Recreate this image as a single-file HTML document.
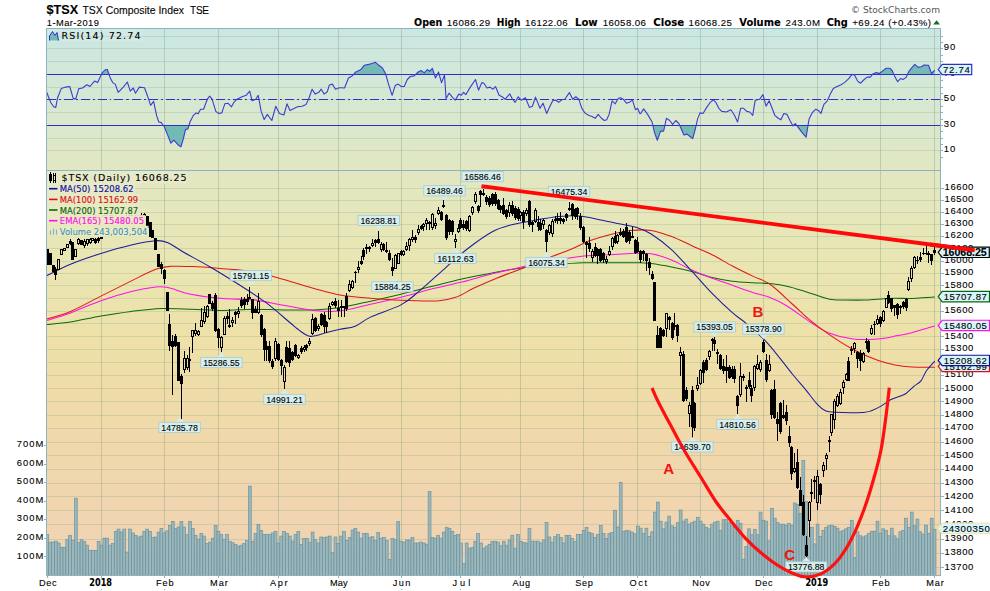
<!DOCTYPE html>
<html><head><meta charset="utf-8"><title>$TSX TSX Composite Index</title>
<style>
html,body{margin:0;padding:0;background:#fff;}
body{width:990px;height:591px;overflow:hidden;}
svg{display:block;}
text{font-family:"Liberation Sans", Arial, sans-serif;fill:#000;stroke:#000;stroke-width:0.1px;}
.ns{stroke:none;}
.v{font-family:"DejaVu Sans", Verdana, sans-serif;}
.b{font-weight:bold;}
</style></head><body>
<svg width="990" height="591" viewBox="0 0 990 591">
<defs>
<linearGradient id="bg" gradientUnits="userSpaceOnUse" x1="0" y1="28" x2="0" y2="576">
<stop offset="0" stop-color="#cae7e3"/>
<stop offset="0.13" stop-color="#d6e8d3"/>
<stop offset="0.26" stop-color="#e2e7c2"/>
<stop offset="0.42" stop-color="#e9e6b3"/>
<stop offset="0.58" stop-color="#eee0a8"/>
<stop offset="0.75" stop-color="#f0d8aa"/>
<stop offset="1" stop-color="#f1d3b6"/>
</linearGradient>
<clipPath id="cp"><rect x="46.5" y="28.5" width="894.0" height="547.0"/></clipPath>
</defs>
<rect x="0" y="0" width="990" height="591" fill="#fff"/>
<rect x="46.5" y="28.5" width="894.0" height="547.0" fill="url(#bg)"/>

<path d="M46.5,150.5H940.5 M46.5,138.5H940.5 M46.5,125.5H940.5 M46.5,112.5H940.5 M46.5,99.5H940.5 M46.5,87.5H940.5 M46.5,74.5H940.5 M46.5,61.5H940.5 M46.5,48.5H940.5 M46.5,36.5H940.5 M46.5,567.5H940.5 M46.5,553.5H940.5 M46.5,539.5H940.5 M46.5,524.5H940.5 M46.5,510.5H940.5 M46.5,496.5H940.5 M46.5,483.5H940.5 M46.5,469.5H940.5 M46.5,455.5H940.5 M46.5,442.5H940.5 M46.5,428.5H940.5 M46.5,415.5H940.5 M46.5,401.5H940.5 M46.5,388.5H940.5 M46.5,375.5H940.5 M46.5,362.5H940.5 M46.5,349.5H940.5 M46.5,336.5H940.5 M46.5,323.5H940.5 M46.5,311.5H940.5 M46.5,298.5H940.5 M46.5,285.5H940.5 M46.5,273.5H940.5 M46.5,261.5H940.5 M46.5,248.5H940.5 M46.5,236.5H940.5 M46.5,224.5H940.5 M46.5,212.5H940.5 M46.5,200.5H940.5 M46.5,188.5H940.5" stroke="#7f9f80" stroke-opacity="0.25" stroke-width="1" fill="none" shape-rendering="crispEdges"/>
<path d="M101.5,28.5V575.5 M164.5,28.5V575.5 M218.5,28.5V575.5 M278.5,28.5V575.5 M338.5,28.5V575.5 M401.5,28.5V575.5 M460.5,28.5V575.5 M520.5,28.5V575.5 M583.5,28.5V575.5 M637.5,28.5V575.5 M700.5,28.5V575.5 M763.5,28.5V575.5 M817.5,28.5V575.5 M880.5,28.5V575.5 M934.5,28.5V575.5" stroke="#6f9478" stroke-opacity="0.33" stroke-width="1" fill="none" shape-rendering="crispEdges"/>
<g fill="#94b4bb" fill-opacity="0.9" stroke="#6a94a0" stroke-width="0.7" clip-path="url(#cp)">
<rect x="45.85" y="534.5" width="2.85" height="41.0"/>
<rect x="48.70" y="542.1" width="2.85" height="33.4"/>
<rect x="51.56" y="542.1" width="2.85" height="33.4"/>
<rect x="54.41" y="541.2" width="2.85" height="34.3"/>
<rect x="57.26" y="543.0" width="2.85" height="32.5"/>
<rect x="60.11" y="547.3" width="2.85" height="28.2"/>
<rect x="62.97" y="547.3" width="2.85" height="28.2"/>
<rect x="65.82" y="539.7" width="2.85" height="35.8"/>
<rect x="68.67" y="535.5" width="2.85" height="40.0"/>
<rect x="71.53" y="540.6" width="2.85" height="34.9"/>
<rect x="74.38" y="498.2" width="2.85" height="77.3"/>
<rect x="77.23" y="542.7" width="2.85" height="32.8"/>
<rect x="80.09" y="539.7" width="2.85" height="35.8"/>
<rect x="82.94" y="541.5" width="2.85" height="34.0"/>
<rect x="85.79" y="545.2" width="2.85" height="30.3"/>
<rect x="88.64" y="550.3" width="2.85" height="25.2"/>
<rect x="91.50" y="550.3" width="2.85" height="25.2"/>
<rect x="94.35" y="550.3" width="2.85" height="25.2"/>
<rect x="97.20" y="541.5" width="2.85" height="34.0"/>
<rect x="100.06" y="545.2" width="2.85" height="30.3"/>
<rect x="102.91" y="538.2" width="2.85" height="37.3"/>
<rect x="105.76" y="538.2" width="2.85" height="37.3"/>
<rect x="108.62" y="545.2" width="2.85" height="30.3"/>
<rect x="111.47" y="543.6" width="2.85" height="31.9"/>
<rect x="114.32" y="531.5" width="2.85" height="44.0"/>
<rect x="117.17" y="529.1" width="2.85" height="46.4"/>
<rect x="120.03" y="532.1" width="2.85" height="43.4"/>
<rect x="122.88" y="529.1" width="2.85" height="46.4"/>
<rect x="125.73" y="552.1" width="2.85" height="23.4"/>
<rect x="128.59" y="529.1" width="2.85" height="46.4"/>
<rect x="131.44" y="533.0" width="2.85" height="42.5"/>
<rect x="134.29" y="535.5" width="2.85" height="40.0"/>
<rect x="137.15" y="537.0" width="2.85" height="38.5"/>
<rect x="140.00" y="536.1" width="2.85" height="39.4"/>
<rect x="142.85" y="531.5" width="2.85" height="44.0"/>
<rect x="145.71" y="529.1" width="2.85" height="46.4"/>
<rect x="148.56" y="531.5" width="2.85" height="44.0"/>
<rect x="151.41" y="537.6" width="2.85" height="37.9"/>
<rect x="154.26" y="537.0" width="2.85" height="38.5"/>
<rect x="157.12" y="532.1" width="2.85" height="43.4"/>
<rect x="159.97" y="528.5" width="2.85" height="47.0"/>
<rect x="162.82" y="533.0" width="2.85" height="42.5"/>
<rect x="165.68" y="530.9" width="2.85" height="44.6"/>
<rect x="168.53" y="525.5" width="2.85" height="50.0"/>
<rect x="171.38" y="521.5" width="2.85" height="54.0"/>
<rect x="174.24" y="528.5" width="2.85" height="47.0"/>
<rect x="177.09" y="527.0" width="2.85" height="48.5"/>
<rect x="179.94" y="521.5" width="2.85" height="54.0"/>
<rect x="182.79" y="527.0" width="2.85" height="48.5"/>
<rect x="185.65" y="534.5" width="2.85" height="41.0"/>
<rect x="188.50" y="521.5" width="2.85" height="54.0"/>
<rect x="191.35" y="528.5" width="2.85" height="47.0"/>
<rect x="194.21" y="535.5" width="2.85" height="40.0"/>
<rect x="197.06" y="539.1" width="2.85" height="36.4"/>
<rect x="199.91" y="533.6" width="2.85" height="41.9"/>
<rect x="202.77" y="536.1" width="2.85" height="39.4"/>
<rect x="205.62" y="543.6" width="2.85" height="31.9"/>
<rect x="208.47" y="542.1" width="2.85" height="33.4"/>
<rect x="211.32" y="538.2" width="2.85" height="37.3"/>
<rect x="214.18" y="525.5" width="2.85" height="50.0"/>
<rect x="217.03" y="531.5" width="2.85" height="44.0"/>
<rect x="219.88" y="534.5" width="2.85" height="41.0"/>
<rect x="222.74" y="539.1" width="2.85" height="36.4"/>
<rect x="225.59" y="534.5" width="2.85" height="41.0"/>
<rect x="228.44" y="541.5" width="2.85" height="34.0"/>
<rect x="231.30" y="542.7" width="2.85" height="32.8"/>
<rect x="234.15" y="544.5" width="2.85" height="31.0"/>
<rect x="237.00" y="546.1" width="2.85" height="29.4"/>
<rect x="239.85" y="545.2" width="2.85" height="30.3"/>
<rect x="242.71" y="543.6" width="2.85" height="31.9"/>
<rect x="245.56" y="540.6" width="2.85" height="34.9"/>
<rect x="248.41" y="486.1" width="2.85" height="89.4"/>
<rect x="251.27" y="541.5" width="2.85" height="34.0"/>
<rect x="254.12" y="533.6" width="2.85" height="41.9"/>
<rect x="256.97" y="524.5" width="2.85" height="51.0"/>
<rect x="259.83" y="530.6" width="2.85" height="44.9"/>
<rect x="262.68" y="534.5" width="2.85" height="41.0"/>
<rect x="265.53" y="534.5" width="2.85" height="41.0"/>
<rect x="268.38" y="534.5" width="2.85" height="41.0"/>
<rect x="271.24" y="533.0" width="2.85" height="42.5"/>
<rect x="274.09" y="531.5" width="2.85" height="44.0"/>
<rect x="276.94" y="543.0" width="2.85" height="32.5"/>
<rect x="279.80" y="536.1" width="2.85" height="39.4"/>
<rect x="282.65" y="531.5" width="2.85" height="44.0"/>
<rect x="285.50" y="533.6" width="2.85" height="41.9"/>
<rect x="288.36" y="536.1" width="2.85" height="39.4"/>
<rect x="291.21" y="541.2" width="2.85" height="34.3"/>
<rect x="294.06" y="534.5" width="2.85" height="41.0"/>
<rect x="296.91" y="531.5" width="2.85" height="44.0"/>
<rect x="299.77" y="544.5" width="2.85" height="31.0"/>
<rect x="302.62" y="538.5" width="2.85" height="37.0"/>
<rect x="305.47" y="538.5" width="2.85" height="37.0"/>
<rect x="308.33" y="542.1" width="2.85" height="33.4"/>
<rect x="311.18" y="532.1" width="2.85" height="43.4"/>
<rect x="314.03" y="539.7" width="2.85" height="35.8"/>
<rect x="316.89" y="543.0" width="2.85" height="32.5"/>
<rect x="319.74" y="537.0" width="2.85" height="38.5"/>
<rect x="322.59" y="537.6" width="2.85" height="37.9"/>
<rect x="325.44" y="537.0" width="2.85" height="38.5"/>
<rect x="328.30" y="536.1" width="2.85" height="39.4"/>
<rect x="331.15" y="552.7" width="2.85" height="22.8"/>
<rect x="334.00" y="537.0" width="2.85" height="38.5"/>
<rect x="336.86" y="543.6" width="2.85" height="31.9"/>
<rect x="339.71" y="536.1" width="2.85" height="39.4"/>
<rect x="342.56" y="531.5" width="2.85" height="44.0"/>
<rect x="345.42" y="540.6" width="2.85" height="34.9"/>
<rect x="348.27" y="537.6" width="2.85" height="37.9"/>
<rect x="351.12" y="530.0" width="2.85" height="45.5"/>
<rect x="353.97" y="528.5" width="2.85" height="47.0"/>
<rect x="356.83" y="532.1" width="2.85" height="43.4"/>
<rect x="359.68" y="538.2" width="2.85" height="37.3"/>
<rect x="362.53" y="533.6" width="2.85" height="41.9"/>
<rect x="365.39" y="533.6" width="2.85" height="41.9"/>
<rect x="368.24" y="537.6" width="2.85" height="37.9"/>
<rect x="371.09" y="536.7" width="2.85" height="38.8"/>
<rect x="373.95" y="540.6" width="2.85" height="34.9"/>
<rect x="376.80" y="532.4" width="2.85" height="43.1"/>
<rect x="379.65" y="538.2" width="2.85" height="37.3"/>
<rect x="382.50" y="537.6" width="2.85" height="37.9"/>
<rect x="385.36" y="540.6" width="2.85" height="34.9"/>
<rect x="388.21" y="559.4" width="2.85" height="16.1"/>
<rect x="391.06" y="538.5" width="2.85" height="37.0"/>
<rect x="393.92" y="539.7" width="2.85" height="35.8"/>
<rect x="396.77" y="521.5" width="2.85" height="54.0"/>
<rect x="399.62" y="541.2" width="2.85" height="34.3"/>
<rect x="402.48" y="542.1" width="2.85" height="33.4"/>
<rect x="405.33" y="540.0" width="2.85" height="35.5"/>
<rect x="408.18" y="540.0" width="2.85" height="35.5"/>
<rect x="411.03" y="537.6" width="2.85" height="37.9"/>
<rect x="413.89" y="543.0" width="2.85" height="32.5"/>
<rect x="416.74" y="543.0" width="2.85" height="32.5"/>
<rect x="419.59" y="542.1" width="2.85" height="33.4"/>
<rect x="422.45" y="543.0" width="2.85" height="32.5"/>
<rect x="425.30" y="544.2" width="2.85" height="31.3"/>
<rect x="428.15" y="491.5" width="2.85" height="84.0"/>
<rect x="431.01" y="537.6" width="2.85" height="37.9"/>
<rect x="433.86" y="538.2" width="2.85" height="37.3"/>
<rect x="436.71" y="535.5" width="2.85" height="40.0"/>
<rect x="439.56" y="538.2" width="2.85" height="37.3"/>
<rect x="442.42" y="532.1" width="2.85" height="43.4"/>
<rect x="445.27" y="527.3" width="2.85" height="48.2"/>
<rect x="448.12" y="528.5" width="2.85" height="47.0"/>
<rect x="450.98" y="531.5" width="2.85" height="44.0"/>
<rect x="453.83" y="535.5" width="2.85" height="40.0"/>
<rect x="456.68" y="534.5" width="2.85" height="41.0"/>
<rect x="459.54" y="543.0" width="2.85" height="32.5"/>
<rect x="462.39" y="563.3" width="2.85" height="12.2"/>
<rect x="465.24" y="543.0" width="2.85" height="32.5"/>
<rect x="468.09" y="548.2" width="2.85" height="27.3"/>
<rect x="470.95" y="547.3" width="2.85" height="28.2"/>
<rect x="473.80" y="541.5" width="2.85" height="34.0"/>
<rect x="476.65" y="533.6" width="2.85" height="41.9"/>
<rect x="479.51" y="543.0" width="2.85" height="32.5"/>
<rect x="482.36" y="548.2" width="2.85" height="27.3"/>
<rect x="485.21" y="546.1" width="2.85" height="29.4"/>
<rect x="488.07" y="544.5" width="2.85" height="31.0"/>
<rect x="490.92" y="541.5" width="2.85" height="34.0"/>
<rect x="493.77" y="541.2" width="2.85" height="34.3"/>
<rect x="496.62" y="542.1" width="2.85" height="33.4"/>
<rect x="499.48" y="545.8" width="2.85" height="29.7"/>
<rect x="502.33" y="541.2" width="2.85" height="34.3"/>
<rect x="505.18" y="545.2" width="2.85" height="30.3"/>
<rect x="508.04" y="540.0" width="2.85" height="35.5"/>
<rect x="510.89" y="535.2" width="2.85" height="40.3"/>
<rect x="513.74" y="548.2" width="2.85" height="27.3"/>
<rect x="516.60" y="534.5" width="2.85" height="41.0"/>
<rect x="519.45" y="541.5" width="2.85" height="34.0"/>
<rect x="522.30" y="542.7" width="2.85" height="32.8"/>
<rect x="525.15" y="543.0" width="2.85" height="32.5"/>
<rect x="528.01" y="528.5" width="2.85" height="47.0"/>
<rect x="530.86" y="541.2" width="2.85" height="34.3"/>
<rect x="533.71" y="541.2" width="2.85" height="34.3"/>
<rect x="536.57" y="541.2" width="2.85" height="34.3"/>
<rect x="539.42" y="543.0" width="2.85" height="32.5"/>
<rect x="542.27" y="540.0" width="2.85" height="35.5"/>
<rect x="545.12" y="522.4" width="2.85" height="53.1"/>
<rect x="547.98" y="537.0" width="2.85" height="38.5"/>
<rect x="550.83" y="542.1" width="2.85" height="33.4"/>
<rect x="553.68" y="536.7" width="2.85" height="38.8"/>
<rect x="556.54" y="534.5" width="2.85" height="41.0"/>
<rect x="559.39" y="537.6" width="2.85" height="37.9"/>
<rect x="562.24" y="543.0" width="2.85" height="32.5"/>
<rect x="565.10" y="535.5" width="2.85" height="40.0"/>
<rect x="567.95" y="535.5" width="2.85" height="40.0"/>
<rect x="570.80" y="538.5" width="2.85" height="37.0"/>
<rect x="573.65" y="541.5" width="2.85" height="34.0"/>
<rect x="576.51" y="534.5" width="2.85" height="41.0"/>
<rect x="579.36" y="534.5" width="2.85" height="41.0"/>
<rect x="582.21" y="530.6" width="2.85" height="44.9"/>
<rect x="585.07" y="527.6" width="2.85" height="47.9"/>
<rect x="587.92" y="532.4" width="2.85" height="43.1"/>
<rect x="590.77" y="533.6" width="2.85" height="41.9"/>
<rect x="593.63" y="537.6" width="2.85" height="37.9"/>
<rect x="596.48" y="534.5" width="2.85" height="41.0"/>
<rect x="599.33" y="525.5" width="2.85" height="50.0"/>
<rect x="602.18" y="533.6" width="2.85" height="41.9"/>
<rect x="605.04" y="538.5" width="2.85" height="37.0"/>
<rect x="607.89" y="533.6" width="2.85" height="41.9"/>
<rect x="610.74" y="532.4" width="2.85" height="43.1"/>
<rect x="613.60" y="510.3" width="2.85" height="65.2"/>
<rect x="616.45" y="527.0" width="2.85" height="48.5"/>
<rect x="619.30" y="482.4" width="2.85" height="93.1"/>
<rect x="622.16" y="531.5" width="2.85" height="44.0"/>
<rect x="625.01" y="530.6" width="2.85" height="44.9"/>
<rect x="627.86" y="530.9" width="2.85" height="44.6"/>
<rect x="630.71" y="532.1" width="2.85" height="43.4"/>
<rect x="633.57" y="533.9" width="2.85" height="41.6"/>
<rect x="636.42" y="526.1" width="2.85" height="49.4"/>
<rect x="639.27" y="528.2" width="2.85" height="47.3"/>
<rect x="642.13" y="533.3" width="2.85" height="42.2"/>
<rect x="644.98" y="528.2" width="2.85" height="47.3"/>
<rect x="647.83" y="536.4" width="2.85" height="39.1"/>
<rect x="650.69" y="531.8" width="2.85" height="43.7"/>
<rect x="653.54" y="512.1" width="2.85" height="63.4"/>
<rect x="656.39" y="502.1" width="2.85" height="73.4"/>
<rect x="659.25" y="521.2" width="2.85" height="54.3"/>
<rect x="662.10" y="528.8" width="2.85" height="46.7"/>
<rect x="664.95" y="522.1" width="2.85" height="53.4"/>
<rect x="667.80" y="516.1" width="2.85" height="59.4"/>
<rect x="670.66" y="525.8" width="2.85" height="49.7"/>
<rect x="673.51" y="527.3" width="2.85" height="48.2"/>
<rect x="676.36" y="522.7" width="2.85" height="52.8"/>
<rect x="679.22" y="510.0" width="2.85" height="65.5"/>
<rect x="682.07" y="521.2" width="2.85" height="54.3"/>
<rect x="684.92" y="519.1" width="2.85" height="56.4"/>
<rect x="687.77" y="524.2" width="2.85" height="51.3"/>
<rect x="690.63" y="522.7" width="2.85" height="52.8"/>
<rect x="693.48" y="521.2" width="2.85" height="54.3"/>
<rect x="696.33" y="517.3" width="2.85" height="58.2"/>
<rect x="699.19" y="521.2" width="2.85" height="54.3"/>
<rect x="702.04" y="524.2" width="2.85" height="51.3"/>
<rect x="704.89" y="527.3" width="2.85" height="48.2"/>
<rect x="707.75" y="528.8" width="2.85" height="46.7"/>
<rect x="710.60" y="524.2" width="2.85" height="51.3"/>
<rect x="713.45" y="522.1" width="2.85" height="53.4"/>
<rect x="716.30" y="521.2" width="2.85" height="54.3"/>
<rect x="719.16" y="530.3" width="2.85" height="45.2"/>
<rect x="722.01" y="519.7" width="2.85" height="55.8"/>
<rect x="724.86" y="519.7" width="2.85" height="55.8"/>
<rect x="727.72" y="522.7" width="2.85" height="52.8"/>
<rect x="730.57" y="525.8" width="2.85" height="49.7"/>
<rect x="733.42" y="527.3" width="2.85" height="48.2"/>
<rect x="736.28" y="520.3" width="2.85" height="55.2"/>
<rect x="739.13" y="523.3" width="2.85" height="52.2"/>
<rect x="741.98" y="559.1" width="2.85" height="16.4"/>
<rect x="744.83" y="546.4" width="2.85" height="29.1"/>
<rect x="747.69" y="528.8" width="2.85" height="46.7"/>
<rect x="750.54" y="534.8" width="2.85" height="40.7"/>
<rect x="753.39" y="529.4" width="2.85" height="46.1"/>
<rect x="756.25" y="534.8" width="2.85" height="40.7"/>
<rect x="759.10" y="512.1" width="2.85" height="63.4"/>
<rect x="761.95" y="520.3" width="2.85" height="55.2"/>
<rect x="764.81" y="521.2" width="2.85" height="54.3"/>
<rect x="767.66" y="540.9" width="2.85" height="34.6"/>
<rect x="770.51" y="508.5" width="2.85" height="67.0"/>
<rect x="773.37" y="518.2" width="2.85" height="57.3"/>
<rect x="776.22" y="522.7" width="2.85" height="52.8"/>
<rect x="779.07" y="524.2" width="2.85" height="51.3"/>
<rect x="781.92" y="524.2" width="2.85" height="51.3"/>
<rect x="784.78" y="525.2" width="2.85" height="50.3"/>
<rect x="787.63" y="523.3" width="2.85" height="52.2"/>
<rect x="790.48" y="525.2" width="2.85" height="50.3"/>
<rect x="793.34" y="503.0" width="2.85" height="72.5"/>
<rect x="796.19" y="504.5" width="2.85" height="71.0"/>
<rect x="799.04" y="513.6" width="2.85" height="61.9"/>
<rect x="801.89" y="460.6" width="2.85" height="114.9"/>
<rect x="804.75" y="501.5" width="2.85" height="74.0"/>
<rect x="807.60" y="537.9" width="2.85" height="37.6"/>
<rect x="810.45" y="527.3" width="2.85" height="48.2"/>
<rect x="813.31" y="543.9" width="2.85" height="31.6"/>
<rect x="816.16" y="524.2" width="2.85" height="51.3"/>
<rect x="819.01" y="536.4" width="2.85" height="39.1"/>
<rect x="821.87" y="530.3" width="2.85" height="45.2"/>
<rect x="824.72" y="527.3" width="2.85" height="48.2"/>
<rect x="827.57" y="525.8" width="2.85" height="49.7"/>
<rect x="830.42" y="525.2" width="2.85" height="50.3"/>
<rect x="833.28" y="526.4" width="2.85" height="49.1"/>
<rect x="836.13" y="528.2" width="2.85" height="47.3"/>
<rect x="838.98" y="531.8" width="2.85" height="43.7"/>
<rect x="841.84" y="530.3" width="2.85" height="45.2"/>
<rect x="844.69" y="528.8" width="2.85" height="46.7"/>
<rect x="847.54" y="527.3" width="2.85" height="48.2"/>
<rect x="850.40" y="520.3" width="2.85" height="55.2"/>
<rect x="853.25" y="557.6" width="2.85" height="17.9"/>
<rect x="856.10" y="531.8" width="2.85" height="43.7"/>
<rect x="858.95" y="535.8" width="2.85" height="39.7"/>
<rect x="861.81" y="537.0" width="2.85" height="38.5"/>
<rect x="864.66" y="535.8" width="2.85" height="39.7"/>
<rect x="867.51" y="533.3" width="2.85" height="42.2"/>
<rect x="870.37" y="531.2" width="2.85" height="44.3"/>
<rect x="873.22" y="531.2" width="2.85" height="44.3"/>
<rect x="876.07" y="521.2" width="2.85" height="54.3"/>
<rect x="878.93" y="533.3" width="2.85" height="42.2"/>
<rect x="881.78" y="528.8" width="2.85" height="46.7"/>
<rect x="884.63" y="530.3" width="2.85" height="45.2"/>
<rect x="887.49" y="535.8" width="2.85" height="39.7"/>
<rect x="890.34" y="528.2" width="2.85" height="47.3"/>
<rect x="893.19" y="535.8" width="2.85" height="39.7"/>
<rect x="896.04" y="538.8" width="2.85" height="36.7"/>
<rect x="898.90" y="531.8" width="2.85" height="43.7"/>
<rect x="901.75" y="530.3" width="2.85" height="45.2"/>
<rect x="904.60" y="518.2" width="2.85" height="57.3"/>
<rect x="907.46" y="527.3" width="2.85" height="48.2"/>
<rect x="910.31" y="512.1" width="2.85" height="63.4"/>
<rect x="913.16" y="525.8" width="2.85" height="49.7"/>
<rect x="916.01" y="519.1" width="2.85" height="56.4"/>
<rect x="918.87" y="531.8" width="2.85" height="43.7"/>
<rect x="921.72" y="534.2" width="2.85" height="41.3"/>
<rect x="924.57" y="525.2" width="2.85" height="50.3"/>
<rect x="927.43" y="533.3" width="2.85" height="42.2"/>
<rect x="930.28" y="518.2" width="2.85" height="57.3"/>
<rect x="933.13" y="529.4" width="2.85" height="46.1"/>
</g>
<path d="M101.4,74.5L102.1,72.9L105.2,69.8L107.3,69.5L109.0,74.5Z M353.4,74.5L355.8,72.0L360.6,69.8L364.2,65.3L368.8,64.4L371.8,63.5L375.5,62.3L378.8,65.3L382.4,68.0L385.5,73.5L385.7,74.5Z M415.7,74.5L418.2,72.0L421.2,70.5L424.2,72.9L427.3,69.5L429.7,71.4L432.4,68.3L434.4,74.5Z M437.2,74.5L438.5,72.0L439.2,74.5Z M852.0,74.5L852.1,74.4L852.5,74.5Z M872.4,74.5L872.7,74.1L876.4,72.6L879.4,73.5L882.4,71.1L886.1,68.3L890.0,68.3L892.1,70.5L893.9,74.5Z M907.5,74.5L909.1,71.1L912.1,67.4L914.8,64.4L918.2,67.4L921.2,66.8L924.2,65.0L928.5,65.3L931.5,73.5L934.5,70.5L934.6,70.9L934.6,74.5Z M163.5,125.5L164.2,126.5L167.3,134.1L170.9,143.2L173.9,140.2L177.9,144.7L180.9,146.8L183.0,140.2L185.5,129.5L187.9,128.9L188.9,125.5Z M652.9,125.5L654.5,132.6L657.3,140.2L660.6,131.1L663.6,131.1L664.8,125.5Z M679.7,125.5L680.9,128.0L683.9,135.0L687.0,134.1L690.0,136.5L692.7,138.6L695.2,129.5L696.1,125.5Z M792.8,125.5L793.0,125.9L793.4,125.5Z M796.7,125.5L798.2,127.4L802.1,132.6L806.1,137.1L808.0,125.5Z" fill="#72bab3" stroke="none"/>
<path d="M46.5,74.5H940.5M46.5,125.5H940.5" stroke="#2f2fc8" stroke-width="1" fill="none" shape-rendering="crispEdges"/>
<path d="M46.5,99.5H940.5" stroke="#2f2fc8" stroke-width="1" stroke-dasharray="9,3,2,3" fill="none" shape-rendering="crispEdges"/>
<path d="M46.7,92.3L50.6,102.3L53.6,106.8L55.8,107.4L57.6,97.7L61.2,88.6L65.8,87.1L69.7,86.5L73.3,98.6L75.8,98.6L78.8,88.6L82.4,88.0L87.0,84.7L90.0,86.5L94.5,81.1L97.6,82.6L102.1,72.9L105.2,69.8L107.3,69.5L110.3,78.0L112.7,82.6L115.2,84.1L118.2,92.3L123.3,87.1L127.3,82.0L130.3,91.1L133.3,88.0L135.5,93.2L139.4,87.1L144.5,87.7L147.6,96.2L150.6,105.3L153.6,101.4L156.7,115.9L158.8,122.0L161.2,122.6L164.2,126.5L167.3,134.1L170.9,143.2L173.9,140.2L177.9,144.7L180.9,146.8L183.0,140.2L185.5,129.5L187.9,128.9L190.0,122.0L193.0,115.9L196.1,112.9L198.2,113.8L200.6,109.2L203.6,109.2L207.3,99.2L209.7,96.2L212.1,99.2L215.8,111.4L218.8,113.5L221.8,112.9L224.8,103.8L227.9,103.2L231.5,106.8L233.9,102.3L237.0,99.2L241.5,97.1L246.1,95.3L249.7,91.1L252.1,100.8L255.8,99.2L258.2,95.3L261.2,111.4L264.2,119.5L267.3,114.4L271.8,120.5L275.8,106.2L279.4,113.5L283.9,115.0L287.0,103.8L290.0,110.5L294.5,108.3L297.6,106.8L302.1,106.2L306.1,104.4L309.1,97.7L312.1,89.2L315.2,94.1L318.8,92.3L321.2,89.2L324.2,94.1L327.3,91.7L329.4,85.0L332.4,84.1L335.5,89.2L339.4,87.7L340.9,87.7L344.5,88.0L348.5,78.0L352.1,75.9L355.8,72.0L360.6,69.8L364.2,65.3L368.8,64.4L371.8,63.5L375.5,62.3L378.8,65.3L382.4,68.0L385.5,73.5L388.5,84.1L392.1,95.3L395.2,85.6L398.2,84.1L401.2,86.5L404.2,86.5L407.3,79.5L410.3,76.5L414.2,75.9L418.2,72.0L421.2,70.5L424.2,72.9L427.3,69.5L429.7,71.4L432.4,68.3L435.5,78.0L438.5,72.0L441.5,82.6L444.5,75.0L446.1,98.6L449.1,93.2L452.7,97.7L455.2,100.2L458.8,94.1L461.2,95.3L463.6,92.3L465.8,94.7L470.3,87.1L475.5,79.5L478.5,90.2L481.8,82.6L483.9,83.2L487.0,88.0L490.0,87.1L493.0,89.2L495.5,86.5L499.1,95.3L502.1,96.8L505.2,99.2L509.7,93.8L512.1,98.6L515.2,102.3L518.2,96.8L521.2,100.2L525.5,97.7L529.4,107.4L532.4,106.2L535.5,97.1L540.0,108.3L543.0,103.2L546.7,113.5L549.7,106.8L552.7,100.8L555.8,100.2L558.8,102.3L561.8,99.8L564.8,99.2L569.4,92.6L572.7,99.2L575.8,96.8L578.8,99.2L581.8,108.3L584.8,112.9L588.5,115.3L592.1,116.5L595.2,118.3L598.2,114.4L601.2,118.0L604.2,120.5L606.7,119.8L609.1,114.4L612.1,100.8L615.2,103.8L618.2,98.6L620.3,97.7L623.3,99.2L626.4,103.2L629.4,102.3L632.4,99.8L635.5,109.8L637.6,108.3L640.0,113.8L640.9,113.2L643.6,108.9L647.6,114.4L652.1,122.0L654.5,132.6L657.3,140.2L660.6,131.1L663.6,131.1L666.4,118.3L669.7,120.5L672.7,124.4L675.8,120.5L678.8,123.5L680.9,128.0L683.9,135.0L687.0,134.1L690.0,136.5L692.7,138.6L695.2,129.5L697.6,118.9L700.0,112.9L703.0,113.5L706.7,107.4L710.3,102.3L713.3,99.8L715.8,102.3L718.8,108.3L721.8,111.4L726.4,112.0L730.9,109.8L734.5,115.3L737.6,122.0L740.6,108.3L743.6,108.3L746.7,111.4L749.7,112.0L752.7,115.3L755.2,100.2L759.7,99.2L763.0,94.7L766.1,106.2L769.1,100.8L772.1,108.3L774.8,115.3L777.9,118.0L780.9,119.8L783.9,113.5L787.0,114.4L790.0,120.5L793.0,125.9L795.2,123.5L798.2,127.4L802.1,132.6L806.1,137.1L809.1,118.9L812.1,112.9L815.8,109.2L818.8,110.8L820.9,113.5L823.9,104.4L827.3,100.8L830.3,94.1L833.3,88.6L837.0,86.5L840.6,85.0L844.5,82.6L848.5,78.9L852.1,74.4L854.5,75.0L857.6,81.1L860.6,83.2L864.2,79.5L867.3,77.1L870.3,77.1L872.7,74.1L876.4,72.6L879.4,73.5L882.4,71.1L886.1,68.3L890.0,68.3L892.1,70.5L894.5,75.9L897.6,81.7L900.6,78.6L903.0,79.5L906.1,77.4L909.1,71.1L912.1,67.4L914.8,64.4L918.2,67.4L921.2,66.8L924.2,65.0L928.5,65.3L931.5,73.5L934.5,70.5L934.6,70.9" stroke="#3c3cd0" stroke-width="1.1" fill="none" stroke-linejoin="round"/>
<g fill="none" stroke-width="1.05" stroke-linejoin="round">
<path d="M46.7,324.5C50.7,324.1 61.5,323.4 70.5,322.0C79.5,320.6 90.8,317.8 100.9,316.0C111.1,314.2 121.2,312.6 131.4,311.4C141.6,310.2 151.7,309.0 161.8,308.6C172.0,308.2 182.1,308.9 192.3,309.2C202.5,309.5 212.7,310.5 222.8,310.5C233.0,310.5 243.0,309.3 253.2,309.2C263.3,309.1 273.5,309.8 283.7,309.9C293.9,310.0 304.7,310.3 314.1,309.9C323.5,309.5 330.6,308.9 340.0,307.5C349.4,306.1 360.4,303.4 370.5,301.2C380.6,299.0 390.8,296.6 400.9,294.2C411.0,291.8 421.2,289.1 431.4,286.6C441.5,284.1 451.6,281.3 461.8,279.0C472.0,276.7 482.1,274.8 492.3,272.9C502.5,271.0 512.6,269.1 522.8,267.7C532.9,266.3 543.1,265.5 553.2,264.7C563.4,263.9 573.6,263.1 583.7,262.8C593.9,262.5 604.7,262.8 614.1,262.8C623.5,262.8 633.8,262.6 640.0,262.7C646.2,262.8 646.0,262.9 651.2,263.6C656.5,264.3 664.7,265.7 671.5,267.0C678.3,268.3 685.0,269.7 691.8,271.5C698.6,273.3 705.3,276.0 712.1,277.6C718.9,279.2 725.6,280.3 732.4,281.2C739.2,282.1 746.4,282.4 752.7,282.8C759.0,283.2 763.8,282.9 770.0,283.6C776.2,284.3 782.1,285.0 790.0,287.0C797.9,289.0 810.8,293.4 817.4,295.4C824.0,297.4 825.3,298.4 829.6,299.2C833.9,300.0 836.9,299.9 843.0,300.0C849.1,300.1 858.3,300.3 866.0,300.0C873.7,299.7 881.4,298.7 889.0,298.4C896.6,298.1 905.5,298.6 911.8,298.4C918.1,298.2 923.2,297.6 927.0,297.4C930.8,297.2 933.5,297.1 934.8,297.0" stroke="#0a6a0a"/>
<path d="M46.7,320.5C50.7,319.2 61.5,316.2 70.5,312.9C79.5,309.6 90.8,304.2 100.9,300.7C111.1,297.1 122.3,293.9 131.4,291.6C140.5,289.3 149.6,287.7 155.7,287.0C161.8,286.3 161.9,286.3 168.0,287.6C174.1,288.9 183.2,292.8 192.3,294.6C201.4,296.4 212.7,297.7 222.8,298.6C233.0,299.5 243.0,298.7 253.2,299.8C263.3,300.9 273.5,303.5 283.7,305.3C293.9,307.1 304.7,309.6 314.1,310.5C323.5,311.4 330.6,312.0 340.0,311.0C349.4,310.0 360.4,306.6 370.5,304.3C380.6,302.0 390.8,299.9 400.9,297.3C411.0,294.8 421.2,291.6 431.4,289.0C441.5,286.4 451.6,284.5 461.8,282.0C472.0,279.5 482.1,276.3 492.3,273.8C502.5,271.3 512.6,269.0 522.8,266.8C532.9,264.6 543.1,262.5 553.2,260.7C563.4,258.9 573.6,257.1 583.7,256.1C593.9,255.1 606.2,255.1 614.1,254.6C622.0,254.1 624.7,253.5 630.9,253.4C637.1,253.3 644.4,252.7 651.2,253.8C658.0,254.9 664.7,257.2 671.5,259.9C678.3,262.6 685.0,267.1 691.8,270.1C698.6,273.2 705.3,275.7 712.1,278.2C718.9,280.7 725.6,282.9 732.4,285.3C739.2,287.7 746.4,290.4 752.7,292.4C759.0,294.4 764.4,295.3 770.0,297.5C775.6,299.7 779.4,301.4 786.2,305.5C793.0,309.6 803.5,317.6 810.6,322.2C817.7,326.8 821.8,330.1 828.9,332.9C836.0,335.7 845.1,338.0 853.2,339.0C861.3,340.0 870.4,339.5 877.6,339.0C884.8,338.5 890.9,336.9 896.6,335.8C902.3,334.8 906.7,334.0 911.8,332.7C916.9,331.4 923.2,329.3 927.0,328.2C930.8,327.1 933.5,326.4 934.8,326.0" stroke="#ff10e8"/>
<path d="M46.7,319.0C50.7,317.7 61.5,315.2 70.5,311.4C79.5,307.6 90.8,301.2 100.9,296.1C111.1,291.0 122.3,285.4 131.4,280.9C140.5,276.4 149.1,271.7 155.7,269.3C162.3,266.9 164.9,266.8 171.0,266.3C177.1,265.9 183.7,266.2 192.3,266.6C200.9,267.0 212.7,267.8 222.8,268.7C233.0,269.6 243.0,270.0 253.2,271.8C263.3,273.6 273.5,276.6 283.7,279.4C293.9,282.2 304.7,285.9 314.1,288.5C323.5,291.1 330.6,293.4 340.0,295.0C349.4,296.6 360.4,297.3 370.5,298.2C380.6,299.1 389.7,299.9 400.9,300.3C412.1,300.8 428.4,301.4 437.5,300.9C446.6,300.4 449.6,299.4 455.7,297.3C461.8,295.2 466.9,291.4 474.0,288.1C481.1,284.8 490.3,280.8 498.4,277.5C506.5,274.2 513.7,271.9 522.8,268.3C531.9,264.7 545.1,259.3 553.2,256.1C561.3,252.9 565.3,251.6 571.5,249.0C577.7,246.4 583.8,243.0 590.3,240.6C596.8,238.2 603.8,236.2 610.6,234.5C617.4,232.8 624.1,231.2 630.9,230.5C637.7,229.8 644.4,229.5 651.2,230.5C658.0,231.5 664.7,234.0 671.5,236.5C678.3,239.0 685.0,242.6 691.8,245.7C698.6,248.8 705.3,251.4 712.1,254.8C718.9,258.2 725.6,262.4 732.4,266.0C739.2,269.6 746.4,273.1 752.7,276.1C759.0,279.2 763.4,279.7 770.0,284.3C776.6,288.9 785.5,297.9 792.3,304.0C799.1,310.1 804.5,315.6 810.6,320.7C816.7,325.8 821.8,329.6 828.9,334.4C836.0,339.2 845.1,345.2 853.2,349.5C861.3,353.8 870.6,357.7 877.6,360.3C884.6,362.9 889.3,363.9 895.0,365.0C900.7,366.1 905.2,366.6 911.8,367.0C918.4,367.4 931.0,367.2 934.8,367.2" stroke="#e01818"/>
<path d="M46.7,275.7C50.7,273.8 61.5,267.9 70.5,264.2C79.5,260.5 90.8,256.7 100.9,253.5C111.1,250.3 122.3,247.1 131.4,245.0C140.5,242.9 149.6,241.1 155.7,240.7C161.8,240.3 163.4,240.9 168.0,242.8C172.6,244.7 176.1,247.9 183.2,252.0C190.3,256.1 201.5,261.9 210.6,267.2C219.7,272.5 228.9,278.2 238.0,284.0C247.1,289.8 256.8,295.8 265.4,302.2C274.0,308.6 284.5,318.1 289.8,322.5C295.1,326.9 294.8,326.8 297.0,328.5C299.2,330.2 300.9,331.7 303.0,333.0C305.1,334.3 307.2,335.9 309.5,336.3C311.8,336.7 313.7,336.1 316.6,335.5C319.5,334.9 322.9,333.5 326.8,332.5C330.7,331.5 335.3,330.4 340.0,329.3C344.7,328.2 350.1,328.2 355.2,326.2C360.3,324.2 362.9,320.7 370.5,317.1C378.1,313.6 392.8,309.2 400.9,304.9C409.0,300.6 411.6,297.5 419.2,291.2C426.8,284.9 438.5,273.9 446.6,266.8C454.7,259.7 460.3,254.3 467.9,248.5C475.5,242.7 485.2,235.7 492.3,231.8C499.4,227.9 503.5,227.0 510.6,225.1C517.7,223.2 527.9,221.5 535.0,220.2C542.1,218.9 547.1,217.9 553.2,217.2C559.3,216.5 566.4,215.9 571.5,215.8C576.6,215.7 577.6,215.7 583.7,216.6C589.8,217.5 600.9,220.1 608.0,221.5C615.1,222.9 621.5,224.3 626.3,225.3C631.1,226.3 632.9,226.2 637.0,227.6C641.1,229.0 645.5,230.3 651.2,234.0C657.0,237.7 664.7,243.5 671.5,249.7C678.3,255.9 685.0,263.8 691.8,271.1C698.6,278.4 705.3,286.5 712.1,293.4C718.9,300.3 726.6,307.6 732.4,312.7C738.1,317.8 740.7,318.6 746.6,323.8C752.5,329.0 760.3,335.2 767.9,343.6C775.5,352.0 786.1,366.4 792.3,374.0C798.5,381.6 801.0,384.0 805.2,389.1C809.4,394.2 814.1,400.8 817.4,404.4C820.7,408.0 822.1,409.2 825.0,410.5C827.9,411.8 828.6,412.0 835.0,412.3C841.4,412.6 856.9,412.7 863.1,412.4C869.3,412.1 869.0,411.6 872.0,410.5C875.0,409.4 878.3,407.7 881.4,405.9C884.5,404.1 887.6,401.4 890.5,399.8C893.4,398.2 896.4,397.5 898.9,396.5C901.4,395.5 903.2,395.4 905.7,393.7C908.2,392.0 911.6,388.3 914.1,386.2C916.6,384.1 919.0,383.3 921.0,380.8C923.0,378.3 924.0,374.3 926.3,371.0C928.6,367.7 933.4,362.8 934.8,361.2" stroke="#1c1c9c"/>
</g>
<g fill="#000" shape-rendering="crispEdges" clip-path="url(#cp)">
<rect x="47" y="249" width="1" height="16"/>
<rect x="46" y="249" width="3" height="16"/>
<rect x="50" y="253" width="1" height="12"/>
<rect x="49" y="253" width="3" height="12"/>
<rect x="53" y="265" width="1" height="7"/>
<rect x="52" y="265" width="3" height="7"/>
<rect x="55" y="267" width="1" height="13"/>
<rect x="54" y="269" width="3" height="6"/>
<rect x="57" y="259" width="1" height="11"/>
<rect x="59" y="259" width="1" height="11"/>
<rect x="58" y="259" width="1" height="1"/>
<rect x="58" y="269" width="1" height="1"/>
<rect x="60" y="249" width="1" height="6"/>
<rect x="62" y="249" width="1" height="6"/>
<rect x="61" y="249" width="1" height="1"/>
<rect x="61" y="254" width="1" height="1"/>
<rect x="63" y="248" width="1" height="3"/>
<rect x="65" y="248" width="1" height="3"/>
<rect x="64" y="248" width="1" height="1"/>
<rect x="64" y="250" width="1" height="1"/>
<rect x="66" y="244" width="1" height="4"/>
<rect x="68" y="244" width="1" height="4"/>
<rect x="67" y="244" width="1" height="1"/>
<rect x="67" y="247" width="1" height="1"/>
<rect x="70" y="239" width="1" height="6"/>
<rect x="69" y="241" width="3" height="3"/>
<rect x="72" y="242" width="1" height="18"/>
<rect x="71" y="242" width="3" height="18"/>
<rect x="74" y="249" width="1" height="8"/>
<rect x="76" y="249" width="1" height="8"/>
<rect x="75" y="249" width="1" height="1"/>
<rect x="75" y="256" width="1" height="1"/>
<rect x="78" y="238" width="1" height="1"/>
<rect x="78" y="244" width="1" height="1"/>
<rect x="77" y="239" width="1" height="5"/>
<rect x="79" y="239" width="1" height="5"/>
<rect x="78" y="239" width="1" height="1"/>
<rect x="78" y="243" width="1" height="1"/>
<rect x="81" y="240" width="1" height="5"/>
<rect x="80" y="240" width="3" height="5"/>
<rect x="84" y="239" width="1" height="2"/>
<rect x="84" y="246" width="1" height="2"/>
<rect x="83" y="241" width="1" height="5"/>
<rect x="85" y="241" width="1" height="5"/>
<rect x="84" y="241" width="1" height="1"/>
<rect x="84" y="245" width="1" height="1"/>
<rect x="87" y="244" width="1" height="2"/>
<rect x="86" y="239" width="1" height="5"/>
<rect x="88" y="239" width="1" height="5"/>
<rect x="87" y="239" width="1" height="1"/>
<rect x="87" y="243" width="1" height="1"/>
<rect x="90" y="238" width="1" height="1"/>
<rect x="90" y="243" width="1" height="1"/>
<rect x="89" y="239" width="1" height="4"/>
<rect x="91" y="239" width="1" height="4"/>
<rect x="90" y="239" width="1" height="1"/>
<rect x="90" y="242" width="1" height="1"/>
<rect x="91" y="238" width="1" height="3"/>
<rect x="93" y="238" width="1" height="3"/>
<rect x="92" y="238" width="1" height="1"/>
<rect x="92" y="240" width="1" height="1"/>
<rect x="95" y="238" width="1" height="6"/>
<rect x="94" y="239" width="3" height="4"/>
<rect x="98" y="237" width="1" height="6"/>
<rect x="97" y="238" width="3" height="3"/>
<rect x="101" y="237" width="1" height="2"/>
<rect x="100" y="237" width="3" height="2"/>
<rect x="104" y="213" width="1" height="2"/>
<rect x="104" y="218" width="1" height="2"/>
<rect x="103" y="215" width="1" height="3"/>
<rect x="105" y="215" width="1" height="3"/>
<rect x="104" y="215" width="1" height="1"/>
<rect x="104" y="217" width="1" height="1"/>
<rect x="107" y="210" width="1" height="2"/>
<rect x="107" y="215" width="1" height="2"/>
<rect x="106" y="212" width="1" height="3"/>
<rect x="108" y="212" width="1" height="3"/>
<rect x="107" y="212" width="1" height="1"/>
<rect x="107" y="214" width="1" height="1"/>
<rect x="110" y="211" width="1" height="8"/>
<rect x="109" y="213" width="3" height="4"/>
<rect x="112" y="215" width="1" height="6"/>
<rect x="111" y="217" width="3" height="2"/>
<rect x="115" y="216" width="1" height="5"/>
<rect x="114" y="218" width="3" height="1"/>
<rect x="118" y="216" width="1" height="9"/>
<rect x="117" y="218" width="3" height="5"/>
<rect x="121" y="218" width="1" height="2"/>
<rect x="121" y="223" width="1" height="2"/>
<rect x="120" y="220" width="1" height="3"/>
<rect x="122" y="220" width="1" height="3"/>
<rect x="121" y="220" width="1" height="1"/>
<rect x="121" y="222" width="1" height="1"/>
<rect x="124" y="216" width="1" height="6"/>
<rect x="123" y="218" width="3" height="2"/>
<rect x="127" y="212" width="1" height="2"/>
<rect x="127" y="218" width="1" height="2"/>
<rect x="126" y="214" width="1" height="4"/>
<rect x="128" y="214" width="1" height="4"/>
<rect x="127" y="214" width="1" height="1"/>
<rect x="127" y="217" width="1" height="1"/>
<rect x="130" y="212" width="1" height="9"/>
<rect x="129" y="214" width="3" height="5"/>
<rect x="132" y="215" width="1" height="6"/>
<rect x="131" y="217" width="3" height="2"/>
<rect x="135" y="215" width="1" height="7"/>
<rect x="134" y="217" width="3" height="3"/>
<rect x="138" y="214" width="1" height="2"/>
<rect x="138" y="220" width="1" height="2"/>
<rect x="137" y="216" width="1" height="4"/>
<rect x="139" y="216" width="1" height="4"/>
<rect x="138" y="216" width="1" height="1"/>
<rect x="138" y="219" width="1" height="1"/>
<rect x="141" y="213" width="1" height="5"/>
<rect x="140" y="215" width="3" height="1"/>
<rect x="144" y="213" width="1" height="4"/>
<rect x="143" y="214" width="3" height="2"/>
<rect x="147" y="216" width="1" height="12"/>
<rect x="146" y="216" width="3" height="12"/>
<rect x="150" y="222" width="1" height="15"/>
<rect x="149" y="222" width="3" height="15"/>
<rect x="152" y="230" width="1" height="8"/>
<rect x="151" y="230" width="3" height="8"/>
<rect x="155" y="238" width="1" height="12"/>
<rect x="154" y="238" width="3" height="12"/>
<rect x="158" y="254" width="1" height="13"/>
<rect x="157" y="254" width="3" height="13"/>
<rect x="161" y="262" width="1" height="12"/>
<rect x="160" y="264" width="3" height="5"/>
<rect x="164" y="269" width="1" height="15"/>
<rect x="163" y="270" width="3" height="9"/>
<rect x="167" y="292" width="1" height="19"/>
<rect x="166" y="292" width="3" height="19"/>
<rect x="169" y="314" width="1" height="37"/>
<rect x="168" y="324" width="3" height="22"/>
<rect x="172" y="335" width="1" height="60"/>
<rect x="171" y="341" width="3" height="6"/>
<rect x="175" y="334" width="1" height="13"/>
<rect x="174" y="336" width="3" height="10"/>
<rect x="178" y="342" width="1" height="39"/>
<rect x="177" y="342" width="3" height="39"/>
<rect x="181" y="374" width="1" height="45"/>
<rect x="180" y="376" width="3" height="8"/>
<rect x="184" y="351" width="1" height="7"/>
<rect x="184" y="370" width="1" height="3"/>
<rect x="183" y="358" width="1" height="12"/>
<rect x="185" y="358" width="1" height="12"/>
<rect x="184" y="358" width="1" height="1"/>
<rect x="184" y="369" width="1" height="1"/>
<rect x="187" y="355" width="1" height="3"/>
<rect x="187" y="368" width="1" height="2"/>
<rect x="186" y="358" width="1" height="10"/>
<rect x="188" y="358" width="1" height="10"/>
<rect x="187" y="358" width="1" height="1"/>
<rect x="187" y="367" width="1" height="1"/>
<rect x="189" y="347" width="1" height="25"/>
<rect x="188" y="359" width="3" height="2"/>
<rect x="192" y="337" width="1" height="16"/>
<rect x="191" y="330" width="1" height="7"/>
<rect x="193" y="330" width="1" height="7"/>
<rect x="192" y="330" width="1" height="1"/>
<rect x="192" y="336" width="1" height="1"/>
<rect x="195" y="323" width="1" height="7"/>
<rect x="195" y="334" width="1" height="2"/>
<rect x="194" y="330" width="1" height="4"/>
<rect x="196" y="330" width="1" height="4"/>
<rect x="195" y="330" width="1" height="1"/>
<rect x="195" y="333" width="1" height="1"/>
<rect x="198" y="330" width="1" height="1"/>
<rect x="198" y="335" width="1" height="1"/>
<rect x="197" y="331" width="1" height="4"/>
<rect x="199" y="331" width="1" height="4"/>
<rect x="198" y="331" width="1" height="1"/>
<rect x="198" y="334" width="1" height="1"/>
<rect x="201" y="308" width="1" height="12"/>
<rect x="200" y="320" width="1" height="7"/>
<rect x="202" y="320" width="1" height="7"/>
<rect x="201" y="320" width="1" height="1"/>
<rect x="201" y="326" width="1" height="1"/>
<rect x="204" y="306" width="1" height="6"/>
<rect x="204" y="322" width="1" height="2"/>
<rect x="203" y="312" width="1" height="10"/>
<rect x="205" y="312" width="1" height="10"/>
<rect x="204" y="312" width="1" height="1"/>
<rect x="204" y="321" width="1" height="1"/>
<rect x="207" y="305" width="1" height="1"/>
<rect x="207" y="317" width="1" height="1"/>
<rect x="206" y="306" width="1" height="11"/>
<rect x="208" y="306" width="1" height="11"/>
<rect x="207" y="306" width="1" height="1"/>
<rect x="207" y="316" width="1" height="1"/>
<rect x="209" y="294" width="1" height="10"/>
<rect x="208" y="294" width="3" height="10"/>
<rect x="212" y="301" width="1" height="10"/>
<rect x="211" y="303" width="3" height="6"/>
<rect x="215" y="293" width="1" height="39"/>
<rect x="214" y="295" width="3" height="36"/>
<rect x="218" y="328" width="1" height="20"/>
<rect x="217" y="329" width="3" height="9"/>
<rect x="221" y="336" width="1" height="1"/>
<rect x="221" y="348" width="1" height="4"/>
<rect x="220" y="337" width="1" height="11"/>
<rect x="222" y="337" width="1" height="11"/>
<rect x="221" y="337" width="1" height="1"/>
<rect x="221" y="347" width="1" height="1"/>
<rect x="224" y="316" width="1" height="2"/>
<rect x="223" y="318" width="1" height="17"/>
<rect x="225" y="318" width="1" height="17"/>
<rect x="224" y="318" width="1" height="1"/>
<rect x="224" y="334" width="1" height="1"/>
<rect x="227" y="312" width="1" height="12"/>
<rect x="226" y="316" width="3" height="3"/>
<rect x="229" y="309" width="1" height="19"/>
<rect x="228" y="325" width="3" height="2"/>
<rect x="232" y="317" width="1" height="3"/>
<rect x="232" y="323" width="1" height="4"/>
<rect x="231" y="320" width="1" height="3"/>
<rect x="233" y="320" width="1" height="3"/>
<rect x="232" y="320" width="1" height="1"/>
<rect x="232" y="322" width="1" height="1"/>
<rect x="235" y="311" width="1" height="13"/>
<rect x="234" y="312" width="3" height="3"/>
<rect x="238" y="307" width="1" height="4"/>
<rect x="238" y="314" width="1" height="4"/>
<rect x="237" y="311" width="1" height="3"/>
<rect x="239" y="311" width="1" height="3"/>
<rect x="238" y="311" width="1" height="1"/>
<rect x="238" y="313" width="1" height="1"/>
<rect x="241" y="297" width="1" height="11"/>
<rect x="240" y="300" width="3" height="6"/>
<rect x="244" y="297" width="1" height="12"/>
<rect x="243" y="299" width="3" height="6"/>
<rect x="247" y="294" width="1" height="11"/>
<rect x="246" y="299" width="3" height="3"/>
<rect x="249" y="287" width="1" height="12"/>
<rect x="248" y="297" width="3" height="2"/>
<rect x="252" y="299" width="1" height="20"/>
<rect x="251" y="299" width="3" height="14"/>
<rect x="255" y="306" width="1" height="7"/>
<rect x="254" y="309" width="3" height="4"/>
<rect x="258" y="293" width="1" height="8"/>
<rect x="258" y="313" width="1" height="1"/>
<rect x="257" y="301" width="1" height="12"/>
<rect x="259" y="301" width="1" height="12"/>
<rect x="258" y="301" width="1" height="1"/>
<rect x="258" y="312" width="1" height="1"/>
<rect x="261" y="314" width="1" height="23"/>
<rect x="260" y="315" width="3" height="20"/>
<rect x="264" y="328" width="1" height="33"/>
<rect x="263" y="329" width="3" height="21"/>
<rect x="266" y="341" width="1" height="20"/>
<rect x="265" y="346" width="3" height="4"/>
<rect x="269" y="341" width="1" height="22"/>
<rect x="268" y="346" width="3" height="15"/>
<rect x="272" y="359" width="1" height="10"/>
<rect x="271" y="361" width="3" height="6"/>
<rect x="275" y="338" width="1" height="3"/>
<rect x="275" y="359" width="1" height="2"/>
<rect x="274" y="341" width="1" height="18"/>
<rect x="276" y="341" width="1" height="18"/>
<rect x="275" y="341" width="1" height="1"/>
<rect x="275" y="358" width="1" height="1"/>
<rect x="278" y="343" width="1" height="18"/>
<rect x="277" y="344" width="3" height="16"/>
<rect x="281" y="359" width="1" height="16"/>
<rect x="280" y="360" width="3" height="6"/>
<rect x="284" y="365" width="1" height="2"/>
<rect x="284" y="382" width="1" height="7"/>
<rect x="283" y="367" width="1" height="15"/>
<rect x="285" y="367" width="1" height="15"/>
<rect x="284" y="367" width="1" height="1"/>
<rect x="284" y="381" width="1" height="1"/>
<rect x="286" y="341" width="1" height="22"/>
<rect x="285" y="347" width="3" height="15"/>
<rect x="289" y="341" width="1" height="26"/>
<rect x="288" y="348" width="3" height="15"/>
<rect x="292" y="351" width="1" height="10"/>
<rect x="291" y="352" width="3" height="8"/>
<rect x="295" y="344" width="1" height="13"/>
<rect x="294" y="345" width="3" height="11"/>
<rect x="298" y="354" width="1" height="1"/>
<rect x="298" y="358" width="1" height="1"/>
<rect x="297" y="355" width="1" height="3"/>
<rect x="299" y="355" width="1" height="3"/>
<rect x="298" y="355" width="1" height="1"/>
<rect x="298" y="357" width="1" height="1"/>
<rect x="301" y="346" width="1" height="8"/>
<rect x="300" y="348" width="3" height="4"/>
<rect x="304" y="345" width="1" height="2"/>
<rect x="304" y="350" width="1" height="2"/>
<rect x="303" y="347" width="1" height="3"/>
<rect x="305" y="347" width="1" height="3"/>
<rect x="304" y="347" width="1" height="1"/>
<rect x="304" y="349" width="1" height="1"/>
<rect x="306" y="344" width="1" height="7"/>
<rect x="305" y="345" width="3" height="3"/>
<rect x="309" y="338" width="1" height="3"/>
<rect x="309" y="344" width="1" height="2"/>
<rect x="308" y="341" width="1" height="3"/>
<rect x="310" y="341" width="1" height="3"/>
<rect x="309" y="341" width="1" height="1"/>
<rect x="309" y="343" width="1" height="1"/>
<rect x="312" y="314" width="1" height="5"/>
<rect x="312" y="334" width="1" height="1"/>
<rect x="311" y="319" width="1" height="15"/>
<rect x="313" y="319" width="1" height="15"/>
<rect x="312" y="319" width="1" height="1"/>
<rect x="312" y="333" width="1" height="1"/>
<rect x="315" y="317" width="1" height="15"/>
<rect x="314" y="318" width="3" height="13"/>
<rect x="318" y="324" width="1" height="2"/>
<rect x="318" y="329" width="1" height="2"/>
<rect x="317" y="326" width="1" height="3"/>
<rect x="319" y="326" width="1" height="3"/>
<rect x="318" y="326" width="1" height="1"/>
<rect x="318" y="328" width="1" height="1"/>
<rect x="321" y="313" width="1" height="13"/>
<rect x="320" y="314" width="3" height="11"/>
<rect x="324" y="312" width="1" height="21"/>
<rect x="323" y="315" width="3" height="12"/>
<rect x="326" y="321" width="1" height="12"/>
<rect x="325" y="322" width="3" height="5"/>
<rect x="329" y="303" width="1" height="3"/>
<rect x="329" y="319" width="1" height="1"/>
<rect x="328" y="306" width="1" height="13"/>
<rect x="330" y="306" width="1" height="13"/>
<rect x="329" y="306" width="1" height="1"/>
<rect x="329" y="318" width="1" height="1"/>
<rect x="332" y="301" width="1" height="1"/>
<rect x="332" y="305" width="1" height="1"/>
<rect x="331" y="302" width="1" height="3"/>
<rect x="333" y="302" width="1" height="3"/>
<rect x="332" y="302" width="1" height="1"/>
<rect x="332" y="304" width="1" height="1"/>
<rect x="335" y="298" width="1" height="10"/>
<rect x="334" y="301" width="3" height="5"/>
<rect x="338" y="300" width="1" height="17"/>
<rect x="337" y="308" width="3" height="3"/>
<rect x="341" y="300" width="1" height="17"/>
<rect x="340" y="306" width="3" height="2"/>
<rect x="344" y="306" width="1" height="11"/>
<rect x="343" y="306" width="3" height="2"/>
<rect x="346" y="293" width="1" height="18"/>
<rect x="345" y="296" width="3" height="13"/>
<rect x="349" y="280" width="1" height="4"/>
<rect x="349" y="291" width="1" height="1"/>
<rect x="348" y="284" width="1" height="7"/>
<rect x="350" y="284" width="1" height="7"/>
<rect x="349" y="284" width="1" height="1"/>
<rect x="349" y="290" width="1" height="1"/>
<rect x="352" y="280" width="1" height="1"/>
<rect x="352" y="288" width="1" height="1"/>
<rect x="351" y="281" width="1" height="7"/>
<rect x="353" y="281" width="1" height="7"/>
<rect x="352" y="281" width="1" height="1"/>
<rect x="352" y="287" width="1" height="1"/>
<rect x="355" y="271" width="1" height="12"/>
<rect x="354" y="272" width="3" height="1"/>
<rect x="358" y="261" width="1" height="6"/>
<rect x="358" y="270" width="1" height="3"/>
<rect x="357" y="267" width="1" height="3"/>
<rect x="359" y="267" width="1" height="3"/>
<rect x="358" y="267" width="1" height="1"/>
<rect x="358" y="269" width="1" height="1"/>
<rect x="361" y="256" width="1" height="9"/>
<rect x="360" y="261" width="3" height="3"/>
<rect x="363" y="248" width="1" height="12"/>
<rect x="362" y="250" width="3" height="7"/>
<rect x="366" y="244" width="1" height="10"/>
<rect x="365" y="247" width="3" height="2"/>
<rect x="369" y="246" width="1" height="6"/>
<rect x="368" y="247" width="3" height="2"/>
<rect x="372" y="239" width="1" height="4"/>
<rect x="372" y="246" width="1" height="1"/>
<rect x="371" y="243" width="1" height="3"/>
<rect x="373" y="243" width="1" height="3"/>
<rect x="372" y="243" width="1" height="1"/>
<rect x="372" y="245" width="1" height="1"/>
<rect x="375" y="239" width="1" height="8"/>
<rect x="374" y="240" width="3" height="3"/>
<rect x="378" y="231" width="1" height="13"/>
<rect x="377" y="239" width="3" height="4"/>
<rect x="381" y="242" width="1" height="2"/>
<rect x="381" y="250" width="1" height="2"/>
<rect x="380" y="244" width="1" height="6"/>
<rect x="382" y="244" width="1" height="6"/>
<rect x="381" y="244" width="1" height="1"/>
<rect x="381" y="249" width="1" height="1"/>
<rect x="383" y="243" width="1" height="8"/>
<rect x="382" y="244" width="3" height="6"/>
<rect x="386" y="242" width="1" height="11"/>
<rect x="385" y="250" width="3" height="2"/>
<rect x="389" y="250" width="1" height="11"/>
<rect x="388" y="253" width="3" height="7"/>
<rect x="392" y="258" width="1" height="18"/>
<rect x="391" y="267" width="3" height="4"/>
<rect x="395" y="254" width="1" height="1"/>
<rect x="394" y="255" width="1" height="14"/>
<rect x="396" y="255" width="1" height="14"/>
<rect x="395" y="255" width="1" height="1"/>
<rect x="395" y="268" width="1" height="1"/>
<rect x="397" y="253" width="1" height="11"/>
<rect x="399" y="253" width="1" height="11"/>
<rect x="398" y="253" width="1" height="1"/>
<rect x="398" y="263" width="1" height="1"/>
<rect x="401" y="250" width="1" height="6"/>
<rect x="400" y="251" width="3" height="4"/>
<rect x="403" y="250" width="1" height="1"/>
<rect x="403" y="255" width="1" height="1"/>
<rect x="402" y="251" width="1" height="4"/>
<rect x="404" y="251" width="1" height="4"/>
<rect x="403" y="251" width="1" height="1"/>
<rect x="403" y="254" width="1" height="1"/>
<rect x="406" y="242" width="1" height="4"/>
<rect x="406" y="250" width="1" height="1"/>
<rect x="405" y="246" width="1" height="4"/>
<rect x="407" y="246" width="1" height="4"/>
<rect x="406" y="246" width="1" height="1"/>
<rect x="406" y="249" width="1" height="1"/>
<rect x="409" y="238" width="1" height="1"/>
<rect x="409" y="246" width="1" height="5"/>
<rect x="408" y="239" width="1" height="7"/>
<rect x="410" y="239" width="1" height="7"/>
<rect x="409" y="239" width="1" height="1"/>
<rect x="409" y="245" width="1" height="1"/>
<rect x="412" y="230" width="1" height="7"/>
<rect x="412" y="240" width="1" height="2"/>
<rect x="411" y="237" width="1" height="3"/>
<rect x="413" y="237" width="1" height="3"/>
<rect x="412" y="237" width="1" height="1"/>
<rect x="412" y="239" width="1" height="1"/>
<rect x="415" y="235" width="1" height="8"/>
<rect x="414" y="237" width="3" height="3"/>
<rect x="418" y="225" width="1" height="4"/>
<rect x="418" y="233" width="1" height="2"/>
<rect x="417" y="229" width="1" height="4"/>
<rect x="419" y="229" width="1" height="4"/>
<rect x="418" y="229" width="1" height="1"/>
<rect x="418" y="232" width="1" height="1"/>
<rect x="421" y="225" width="1" height="5"/>
<rect x="420" y="226" width="3" height="3"/>
<rect x="423" y="223" width="1" height="1"/>
<rect x="423" y="227" width="1" height="4"/>
<rect x="422" y="224" width="1" height="3"/>
<rect x="424" y="224" width="1" height="3"/>
<rect x="423" y="224" width="1" height="1"/>
<rect x="423" y="226" width="1" height="1"/>
<rect x="426" y="218" width="1" height="2"/>
<rect x="426" y="224" width="1" height="6"/>
<rect x="425" y="220" width="1" height="4"/>
<rect x="427" y="220" width="1" height="4"/>
<rect x="426" y="220" width="1" height="1"/>
<rect x="426" y="223" width="1" height="1"/>
<rect x="429" y="221" width="1" height="9"/>
<rect x="428" y="222" width="3" height="2"/>
<rect x="432" y="213" width="1" height="1"/>
<rect x="432" y="228" width="1" height="2"/>
<rect x="431" y="214" width="1" height="14"/>
<rect x="433" y="214" width="1" height="14"/>
<rect x="432" y="214" width="1" height="1"/>
<rect x="432" y="227" width="1" height="1"/>
<rect x="435" y="218" width="1" height="5"/>
<rect x="435" y="226" width="1" height="3"/>
<rect x="434" y="223" width="1" height="3"/>
<rect x="436" y="223" width="1" height="3"/>
<rect x="435" y="223" width="1" height="1"/>
<rect x="435" y="225" width="1" height="1"/>
<rect x="438" y="207" width="1" height="3"/>
<rect x="438" y="214" width="1" height="1"/>
<rect x="437" y="210" width="1" height="4"/>
<rect x="439" y="210" width="1" height="4"/>
<rect x="438" y="210" width="1" height="1"/>
<rect x="438" y="213" width="1" height="1"/>
<rect x="441" y="211" width="1" height="10"/>
<rect x="440" y="212" width="3" height="8"/>
<rect x="443" y="200" width="1" height="8"/>
<rect x="442" y="205" width="3" height="2"/>
<rect x="446" y="214" width="1" height="26"/>
<rect x="445" y="215" width="3" height="23"/>
<rect x="449" y="219" width="1" height="16"/>
<rect x="448" y="220" width="3" height="12"/>
<rect x="452" y="220" width="1" height="15"/>
<rect x="451" y="221" width="3" height="11"/>
<rect x="455" y="234" width="1" height="5"/>
<rect x="455" y="242" width="1" height="6"/>
<rect x="454" y="239" width="1" height="3"/>
<rect x="456" y="239" width="1" height="3"/>
<rect x="455" y="239" width="1" height="1"/>
<rect x="455" y="241" width="1" height="1"/>
<rect x="458" y="224" width="1" height="4"/>
<rect x="458" y="232" width="1" height="1"/>
<rect x="457" y="228" width="1" height="4"/>
<rect x="459" y="228" width="1" height="4"/>
<rect x="458" y="228" width="1" height="1"/>
<rect x="458" y="231" width="1" height="1"/>
<rect x="460" y="218" width="1" height="11"/>
<rect x="459" y="220" width="3" height="8"/>
<rect x="463" y="220" width="1" height="10"/>
<rect x="462" y="224" width="3" height="4"/>
<rect x="466" y="220" width="1" height="11"/>
<rect x="465" y="221" width="3" height="8"/>
<rect x="469" y="215" width="1" height="1"/>
<rect x="469" y="231" width="1" height="1"/>
<rect x="468" y="216" width="1" height="15"/>
<rect x="470" y="216" width="1" height="15"/>
<rect x="469" y="216" width="1" height="1"/>
<rect x="469" y="230" width="1" height="1"/>
<rect x="472" y="206" width="1" height="1"/>
<rect x="472" y="213" width="1" height="2"/>
<rect x="471" y="207" width="1" height="6"/>
<rect x="473" y="207" width="1" height="6"/>
<rect x="472" y="207" width="1" height="1"/>
<rect x="472" y="212" width="1" height="1"/>
<rect x="475" y="192" width="1" height="2"/>
<rect x="475" y="202" width="1" height="2"/>
<rect x="474" y="194" width="1" height="8"/>
<rect x="476" y="194" width="1" height="8"/>
<rect x="475" y="194" width="1" height="1"/>
<rect x="475" y="201" width="1" height="1"/>
<rect x="478" y="205" width="1" height="8"/>
<rect x="477" y="206" width="3" height="5"/>
<rect x="480" y="190" width="1" height="17"/>
<rect x="479" y="191" width="3" height="4"/>
<rect x="483" y="189" width="1" height="7"/>
<rect x="482" y="193" width="3" height="2"/>
<rect x="486" y="195" width="1" height="10"/>
<rect x="485" y="197" width="3" height="5"/>
<rect x="489" y="196" width="1" height="11"/>
<rect x="488" y="198" width="3" height="7"/>
<rect x="492" y="193" width="1" height="13"/>
<rect x="491" y="194" width="3" height="10"/>
<rect x="495" y="192" width="1" height="14"/>
<rect x="494" y="194" width="3" height="10"/>
<rect x="498" y="199" width="1" height="11"/>
<rect x="497" y="200" width="3" height="9"/>
<rect x="500" y="205" width="1" height="8"/>
<rect x="499" y="206" width="3" height="4"/>
<rect x="503" y="198" width="1" height="17"/>
<rect x="502" y="205" width="3" height="9"/>
<rect x="506" y="209" width="1" height="10"/>
<rect x="505" y="210" width="3" height="7"/>
<rect x="509" y="202" width="1" height="3"/>
<rect x="509" y="213" width="1" height="4"/>
<rect x="508" y="205" width="1" height="8"/>
<rect x="510" y="205" width="1" height="8"/>
<rect x="509" y="205" width="1" height="1"/>
<rect x="509" y="212" width="1" height="1"/>
<rect x="512" y="201" width="1" height="15"/>
<rect x="511" y="205" width="3" height="9"/>
<rect x="515" y="206" width="1" height="14"/>
<rect x="514" y="208" width="3" height="10"/>
<rect x="518" y="207" width="1" height="14"/>
<rect x="517" y="209" width="3" height="10"/>
<rect x="520" y="211" width="1" height="1"/>
<rect x="520" y="216" width="1" height="5"/>
<rect x="519" y="212" width="1" height="4"/>
<rect x="521" y="212" width="1" height="4"/>
<rect x="520" y="212" width="1" height="1"/>
<rect x="520" y="215" width="1" height="1"/>
<rect x="523" y="210" width="1" height="19"/>
<rect x="522" y="212" width="3" height="10"/>
<rect x="526" y="208" width="1" height="2"/>
<rect x="526" y="214" width="1" height="2"/>
<rect x="525" y="210" width="1" height="4"/>
<rect x="527" y="210" width="1" height="4"/>
<rect x="526" y="210" width="1" height="1"/>
<rect x="526" y="213" width="1" height="1"/>
<rect x="529" y="200" width="1" height="27"/>
<rect x="528" y="201" width="3" height="24"/>
<rect x="532" y="221" width="1" height="11"/>
<rect x="531" y="222" width="3" height="3"/>
<rect x="535" y="208" width="1" height="2"/>
<rect x="535" y="222" width="1" height="1"/>
<rect x="534" y="210" width="1" height="12"/>
<rect x="536" y="210" width="1" height="12"/>
<rect x="535" y="210" width="1" height="1"/>
<rect x="535" y="221" width="1" height="1"/>
<rect x="538" y="216" width="1" height="15"/>
<rect x="537" y="222" width="3" height="5"/>
<rect x="540" y="219" width="1" height="12"/>
<rect x="539" y="223" width="3" height="7"/>
<rect x="543" y="219" width="1" height="1"/>
<rect x="543" y="225" width="1" height="4"/>
<rect x="542" y="220" width="1" height="5"/>
<rect x="544" y="220" width="1" height="5"/>
<rect x="543" y="220" width="1" height="1"/>
<rect x="543" y="224" width="1" height="1"/>
<rect x="546" y="229" width="1" height="23"/>
<rect x="545" y="230" width="3" height="12"/>
<rect x="549" y="224" width="1" height="1"/>
<rect x="549" y="233" width="1" height="2"/>
<rect x="548" y="225" width="1" height="8"/>
<rect x="550" y="225" width="1" height="8"/>
<rect x="549" y="225" width="1" height="1"/>
<rect x="549" y="232" width="1" height="1"/>
<rect x="552" y="219" width="1" height="2"/>
<rect x="552" y="234" width="1" height="3"/>
<rect x="551" y="221" width="1" height="13"/>
<rect x="553" y="221" width="1" height="13"/>
<rect x="552" y="221" width="1" height="1"/>
<rect x="552" y="233" width="1" height="1"/>
<rect x="555" y="216" width="1" height="7"/>
<rect x="554" y="219" width="3" height="2"/>
<rect x="557" y="213" width="1" height="11"/>
<rect x="556" y="218" width="3" height="3"/>
<rect x="560" y="212" width="1" height="12"/>
<rect x="559" y="218" width="3" height="3"/>
<rect x="563" y="218" width="1" height="6"/>
<rect x="562" y="219" width="3" height="3"/>
<rect x="566" y="213" width="1" height="8"/>
<rect x="565" y="214" width="3" height="4"/>
<rect x="569" y="202" width="1" height="9"/>
<rect x="568" y="208" width="3" height="2"/>
<rect x="572" y="203" width="1" height="17"/>
<rect x="571" y="204" width="3" height="12"/>
<rect x="575" y="208" width="1" height="11"/>
<rect x="574" y="209" width="3" height="8"/>
<rect x="577" y="207" width="1" height="13"/>
<rect x="576" y="208" width="3" height="6"/>
<rect x="580" y="213" width="1" height="17"/>
<rect x="579" y="216" width="3" height="12"/>
<rect x="583" y="226" width="1" height="17"/>
<rect x="582" y="227" width="3" height="15"/>
<rect x="586" y="241" width="1" height="17"/>
<rect x="585" y="242" width="3" height="3"/>
<rect x="589" y="237" width="1" height="15"/>
<rect x="588" y="243" width="3" height="6"/>
<rect x="592" y="249" width="1" height="2"/>
<rect x="592" y="258" width="1" height="4"/>
<rect x="591" y="251" width="1" height="7"/>
<rect x="593" y="251" width="1" height="7"/>
<rect x="592" y="251" width="1" height="1"/>
<rect x="592" y="257" width="1" height="1"/>
<rect x="595" y="243" width="1" height="14"/>
<rect x="594" y="247" width="3" height="9"/>
<rect x="597" y="248" width="1" height="16"/>
<rect x="596" y="249" width="3" height="7"/>
<rect x="600" y="248" width="1" height="14"/>
<rect x="599" y="249" width="3" height="12"/>
<rect x="603" y="252" width="1" height="11"/>
<rect x="602" y="253" width="3" height="7"/>
<rect x="606" y="256" width="1" height="3"/>
<rect x="606" y="262" width="1" height="2"/>
<rect x="605" y="259" width="1" height="3"/>
<rect x="607" y="259" width="1" height="3"/>
<rect x="606" y="259" width="1" height="1"/>
<rect x="606" y="261" width="1" height="1"/>
<rect x="609" y="246" width="1" height="5"/>
<rect x="609" y="255" width="1" height="1"/>
<rect x="608" y="251" width="1" height="4"/>
<rect x="610" y="251" width="1" height="4"/>
<rect x="609" y="251" width="1" height="1"/>
<rect x="609" y="254" width="1" height="1"/>
<rect x="612" y="237" width="1" height="1"/>
<rect x="612" y="247" width="1" height="3"/>
<rect x="611" y="238" width="1" height="9"/>
<rect x="613" y="238" width="1" height="9"/>
<rect x="612" y="238" width="1" height="1"/>
<rect x="612" y="246" width="1" height="1"/>
<rect x="615" y="231" width="1" height="13"/>
<rect x="614" y="236" width="3" height="7"/>
<rect x="617" y="234" width="1" height="1"/>
<rect x="617" y="242" width="1" height="2"/>
<rect x="616" y="235" width="1" height="7"/>
<rect x="618" y="235" width="1" height="7"/>
<rect x="617" y="235" width="1" height="1"/>
<rect x="617" y="241" width="1" height="1"/>
<rect x="620" y="228" width="1" height="8"/>
<rect x="619" y="232" width="3" height="3"/>
<rect x="623" y="229" width="1" height="9"/>
<rect x="622" y="231" width="3" height="6"/>
<rect x="626" y="223" width="1" height="20"/>
<rect x="625" y="227" width="3" height="15"/>
<rect x="629" y="230" width="1" height="14"/>
<rect x="628" y="232" width="3" height="9"/>
<rect x="632" y="227" width="1" height="11"/>
<rect x="631" y="236" width="3" height="2"/>
<rect x="635" y="239" width="1" height="15"/>
<rect x="634" y="240" width="3" height="13"/>
<rect x="637" y="237" width="1" height="16"/>
<rect x="636" y="242" width="3" height="10"/>
<rect x="640" y="250" width="1" height="13"/>
<rect x="639" y="251" width="3" height="9"/>
<rect x="643" y="250" width="1" height="11"/>
<rect x="642" y="251" width="3" height="3"/>
<rect x="646" y="253" width="1" height="18"/>
<rect x="645" y="254" width="3" height="7"/>
<rect x="649" y="258" width="1" height="17"/>
<rect x="648" y="262" width="3" height="6"/>
<rect x="652" y="271" width="1" height="9"/>
<rect x="651" y="274" width="3" height="5"/>
<rect x="654" y="282" width="1" height="39"/>
<rect x="653" y="282" width="3" height="39"/>
<rect x="657" y="326" width="1" height="22"/>
<rect x="656" y="335" width="3" height="13"/>
<rect x="660" y="327" width="1" height="21"/>
<rect x="659" y="328" width="3" height="20"/>
<rect x="663" y="329" width="1" height="8"/>
<rect x="662" y="330" width="3" height="6"/>
<rect x="666" y="329" width="1" height="8"/>
<rect x="665" y="313" width="1" height="16"/>
<rect x="667" y="313" width="1" height="16"/>
<rect x="666" y="313" width="1" height="1"/>
<rect x="666" y="328" width="1" height="1"/>
<rect x="669" y="316" width="1" height="14"/>
<rect x="668" y="317" width="3" height="3"/>
<rect x="672" y="322" width="1" height="18"/>
<rect x="671" y="323" width="3" height="15"/>
<rect x="674" y="313" width="1" height="17"/>
<rect x="673" y="325" width="3" height="2"/>
<rect x="677" y="324" width="1" height="18"/>
<rect x="676" y="325" width="3" height="11"/>
<rect x="680" y="347" width="1" height="5"/>
<rect x="680" y="356" width="1" height="20"/>
<rect x="679" y="352" width="1" height="4"/>
<rect x="681" y="352" width="1" height="4"/>
<rect x="680" y="352" width="1" height="1"/>
<rect x="680" y="355" width="1" height="1"/>
<rect x="683" y="351" width="1" height="51"/>
<rect x="682" y="354" width="3" height="47"/>
<rect x="686" y="387" width="1" height="14"/>
<rect x="685" y="390" width="3" height="9"/>
<rect x="689" y="402" width="1" height="3"/>
<rect x="689" y="414" width="1" height="13"/>
<rect x="688" y="405" width="1" height="9"/>
<rect x="690" y="405" width="1" height="9"/>
<rect x="689" y="405" width="1" height="1"/>
<rect x="689" y="413" width="1" height="1"/>
<rect x="692" y="386" width="1" height="52"/>
<rect x="691" y="390" width="3" height="37"/>
<rect x="694" y="402" width="1" height="29"/>
<rect x="693" y="403" width="3" height="25"/>
<rect x="697" y="377" width="1" height="8"/>
<rect x="697" y="389" width="1" height="2"/>
<rect x="696" y="385" width="1" height="4"/>
<rect x="698" y="385" width="1" height="4"/>
<rect x="697" y="385" width="1" height="1"/>
<rect x="697" y="388" width="1" height="1"/>
<rect x="700" y="369" width="1" height="1"/>
<rect x="700" y="384" width="1" height="1"/>
<rect x="699" y="370" width="1" height="14"/>
<rect x="701" y="370" width="1" height="14"/>
<rect x="700" y="370" width="1" height="1"/>
<rect x="700" y="383" width="1" height="1"/>
<rect x="703" y="360" width="1" height="23"/>
<rect x="702" y="362" width="3" height="11"/>
<rect x="706" y="358" width="1" height="13"/>
<rect x="705" y="360" width="3" height="10"/>
<rect x="709" y="350" width="1" height="1"/>
<rect x="709" y="357" width="1" height="3"/>
<rect x="708" y="351" width="1" height="6"/>
<rect x="710" y="351" width="1" height="6"/>
<rect x="709" y="351" width="1" height="1"/>
<rect x="709" y="356" width="1" height="1"/>
<rect x="712" y="338" width="1" height="13"/>
<rect x="711" y="339" width="3" height="2"/>
<rect x="714" y="337" width="1" height="14"/>
<rect x="713" y="340" width="3" height="4"/>
<rect x="717" y="349" width="1" height="15"/>
<rect x="716" y="352" width="3" height="2"/>
<rect x="720" y="354" width="1" height="16"/>
<rect x="719" y="355" width="3" height="14"/>
<rect x="723" y="359" width="1" height="15"/>
<rect x="722" y="366" width="3" height="5"/>
<rect x="726" y="355" width="1" height="28"/>
<rect x="725" y="367" width="3" height="4"/>
<rect x="729" y="365" width="1" height="14"/>
<rect x="728" y="367" width="3" height="11"/>
<rect x="732" y="366" width="1" height="13"/>
<rect x="731" y="369" width="3" height="8"/>
<rect x="734" y="366" width="1" height="17"/>
<rect x="733" y="369" width="3" height="10"/>
<rect x="737" y="395" width="1" height="19"/>
<rect x="736" y="396" width="3" height="10"/>
<rect x="740" y="363" width="1" height="13"/>
<rect x="740" y="395" width="1" height="2"/>
<rect x="739" y="376" width="1" height="19"/>
<rect x="741" y="376" width="1" height="19"/>
<rect x="740" y="376" width="1" height="1"/>
<rect x="740" y="394" width="1" height="1"/>
<rect x="743" y="374" width="1" height="7"/>
<rect x="742" y="376" width="3" height="2"/>
<rect x="746" y="385" width="1" height="17"/>
<rect x="745" y="387" width="3" height="2"/>
<rect x="749" y="372" width="1" height="17"/>
<rect x="748" y="380" width="3" height="7"/>
<rect x="751" y="385" width="1" height="17"/>
<rect x="750" y="388" width="3" height="8"/>
<rect x="754" y="365" width="1" height="1"/>
<rect x="754" y="388" width="1" height="3"/>
<rect x="753" y="366" width="1" height="22"/>
<rect x="755" y="366" width="1" height="22"/>
<rect x="754" y="366" width="1" height="1"/>
<rect x="754" y="387" width="1" height="1"/>
<rect x="757" y="355" width="1" height="9"/>
<rect x="757" y="369" width="1" height="1"/>
<rect x="756" y="364" width="1" height="5"/>
<rect x="758" y="364" width="1" height="5"/>
<rect x="757" y="364" width="1" height="1"/>
<rect x="757" y="368" width="1" height="1"/>
<rect x="760" y="360" width="1" height="2"/>
<rect x="760" y="370" width="1" height="2"/>
<rect x="759" y="362" width="1" height="8"/>
<rect x="761" y="362" width="1" height="8"/>
<rect x="760" y="362" width="1" height="1"/>
<rect x="760" y="369" width="1" height="1"/>
<rect x="763" y="340" width="1" height="13"/>
<rect x="762" y="342" width="3" height="10"/>
<rect x="766" y="354" width="1" height="28"/>
<rect x="765" y="360" width="3" height="20"/>
<rect x="769" y="355" width="1" height="9"/>
<rect x="769" y="371" width="1" height="1"/>
<rect x="768" y="364" width="1" height="7"/>
<rect x="770" y="364" width="1" height="7"/>
<rect x="769" y="364" width="1" height="1"/>
<rect x="769" y="370" width="1" height="1"/>
<rect x="771" y="389" width="1" height="30"/>
<rect x="770" y="390" width="3" height="25"/>
<rect x="774" y="380" width="1" height="39"/>
<rect x="773" y="389" width="3" height="29"/>
<rect x="777" y="412" width="1" height="29"/>
<rect x="776" y="419" width="3" height="5"/>
<rect x="780" y="402" width="1" height="32"/>
<rect x="779" y="403" width="3" height="29"/>
<rect x="783" y="400" width="1" height="19"/>
<rect x="782" y="415" width="3" height="3"/>
<rect x="786" y="405" width="1" height="20"/>
<rect x="785" y="412" width="3" height="9"/>
<rect x="789" y="426" width="1" height="21"/>
<rect x="788" y="436" width="3" height="7"/>
<rect x="791" y="446" width="1" height="34"/>
<rect x="790" y="447" width="3" height="27"/>
<rect x="794" y="453" width="1" height="15"/>
<rect x="794" y="472" width="1" height="1"/>
<rect x="793" y="468" width="1" height="4"/>
<rect x="795" y="468" width="1" height="4"/>
<rect x="794" y="468" width="1" height="1"/>
<rect x="794" y="471" width="1" height="1"/>
<rect x="797" y="449" width="1" height="40"/>
<rect x="796" y="462" width="3" height="26"/>
<rect x="800" y="477" width="1" height="29"/>
<rect x="799" y="490" width="3" height="16"/>
<rect x="803" y="495" width="1" height="41"/>
<rect x="802" y="502" width="3" height="33"/>
<rect x="806" y="536" width="1" height="21"/>
<rect x="805" y="545" width="3" height="11"/>
<rect x="809" y="501" width="1" height="1"/>
<rect x="809" y="521" width="1" height="16"/>
<rect x="808" y="502" width="1" height="19"/>
<rect x="810" y="502" width="1" height="19"/>
<rect x="809" y="502" width="1" height="1"/>
<rect x="809" y="520" width="1" height="1"/>
<rect x="811" y="479" width="1" height="23"/>
<rect x="810" y="492" width="3" height="2"/>
<rect x="814" y="476" width="1" height="23"/>
<rect x="813" y="480" width="3" height="2"/>
<rect x="817" y="470" width="1" height="6"/>
<rect x="817" y="503" width="1" height="7"/>
<rect x="816" y="476" width="1" height="27"/>
<rect x="818" y="476" width="1" height="27"/>
<rect x="817" y="476" width="1" height="1"/>
<rect x="817" y="502" width="1" height="1"/>
<rect x="820" y="483" width="1" height="21"/>
<rect x="819" y="484" width="3" height="11"/>
<rect x="823" y="462" width="1" height="3"/>
<rect x="823" y="471" width="1" height="6"/>
<rect x="822" y="465" width="1" height="6"/>
<rect x="824" y="465" width="1" height="6"/>
<rect x="823" y="465" width="1" height="1"/>
<rect x="823" y="470" width="1" height="1"/>
<rect x="826" y="453" width="1" height="2"/>
<rect x="826" y="459" width="1" height="11"/>
<rect x="825" y="455" width="1" height="4"/>
<rect x="827" y="455" width="1" height="4"/>
<rect x="826" y="455" width="1" height="1"/>
<rect x="826" y="458" width="1" height="1"/>
<rect x="829" y="436" width="1" height="16"/>
<rect x="828" y="440" width="3" height="2"/>
<rect x="831" y="433" width="1" height="3"/>
<rect x="830" y="414" width="1" height="19"/>
<rect x="832" y="414" width="1" height="19"/>
<rect x="831" y="414" width="1" height="1"/>
<rect x="831" y="432" width="1" height="1"/>
<rect x="834" y="399" width="1" height="2"/>
<rect x="834" y="420" width="1" height="9"/>
<rect x="833" y="401" width="1" height="19"/>
<rect x="835" y="401" width="1" height="19"/>
<rect x="834" y="401" width="1" height="1"/>
<rect x="834" y="419" width="1" height="1"/>
<rect x="837" y="394" width="1" height="2"/>
<rect x="837" y="406" width="1" height="1"/>
<rect x="836" y="396" width="1" height="10"/>
<rect x="838" y="396" width="1" height="10"/>
<rect x="837" y="396" width="1" height="1"/>
<rect x="837" y="405" width="1" height="1"/>
<rect x="840" y="389" width="1" height="3"/>
<rect x="840" y="404" width="1" height="1"/>
<rect x="839" y="392" width="1" height="12"/>
<rect x="841" y="392" width="1" height="12"/>
<rect x="840" y="392" width="1" height="1"/>
<rect x="840" y="403" width="1" height="1"/>
<rect x="843" y="380" width="1" height="2"/>
<rect x="843" y="388" width="1" height="6"/>
<rect x="842" y="382" width="1" height="6"/>
<rect x="844" y="382" width="1" height="6"/>
<rect x="843" y="382" width="1" height="1"/>
<rect x="843" y="387" width="1" height="1"/>
<rect x="846" y="373" width="1" height="1"/>
<rect x="846" y="380" width="1" height="1"/>
<rect x="845" y="374" width="1" height="6"/>
<rect x="847" y="374" width="1" height="6"/>
<rect x="846" y="374" width="1" height="1"/>
<rect x="846" y="379" width="1" height="1"/>
<rect x="848" y="357" width="1" height="24"/>
<rect x="847" y="361" width="3" height="20"/>
<rect x="851" y="346" width="1" height="9"/>
<rect x="850" y="349" width="3" height="2"/>
<rect x="854" y="342" width="1" height="1"/>
<rect x="854" y="349" width="1" height="4"/>
<rect x="853" y="343" width="1" height="6"/>
<rect x="855" y="343" width="1" height="6"/>
<rect x="854" y="343" width="1" height="1"/>
<rect x="854" y="348" width="1" height="1"/>
<rect x="857" y="351" width="1" height="17"/>
<rect x="856" y="352" width="3" height="7"/>
<rect x="860" y="350" width="1" height="21"/>
<rect x="859" y="353" width="3" height="8"/>
<rect x="863" y="352" width="1" height="1"/>
<rect x="863" y="362" width="1" height="1"/>
<rect x="862" y="353" width="1" height="9"/>
<rect x="864" y="353" width="1" height="9"/>
<rect x="863" y="353" width="1" height="1"/>
<rect x="863" y="361" width="1" height="1"/>
<rect x="866" y="338" width="1" height="11"/>
<rect x="865" y="341" width="3" height="2"/>
<rect x="868" y="340" width="1" height="13"/>
<rect x="867" y="341" width="3" height="11"/>
<rect x="871" y="325" width="1" height="3"/>
<rect x="871" y="334" width="1" height="1"/>
<rect x="870" y="328" width="1" height="6"/>
<rect x="872" y="328" width="1" height="6"/>
<rect x="871" y="328" width="1" height="1"/>
<rect x="871" y="333" width="1" height="1"/>
<rect x="874" y="321" width="1" height="14"/>
<rect x="873" y="324" width="3" height="1"/>
<rect x="877" y="315" width="1" height="4"/>
<rect x="877" y="324" width="1" height="1"/>
<rect x="876" y="319" width="1" height="5"/>
<rect x="878" y="319" width="1" height="5"/>
<rect x="877" y="319" width="1" height="1"/>
<rect x="877" y="323" width="1" height="1"/>
<rect x="880" y="316" width="1" height="11"/>
<rect x="879" y="317" width="3" height="7"/>
<rect x="883" y="310" width="1" height="1"/>
<rect x="883" y="321" width="1" height="1"/>
<rect x="882" y="311" width="1" height="10"/>
<rect x="884" y="311" width="1" height="10"/>
<rect x="883" y="311" width="1" height="1"/>
<rect x="883" y="320" width="1" height="1"/>
<rect x="885" y="298" width="1" height="10"/>
<rect x="887" y="298" width="1" height="10"/>
<rect x="886" y="298" width="1" height="1"/>
<rect x="886" y="307" width="1" height="1"/>
<rect x="888" y="291" width="1" height="13"/>
<rect x="887" y="295" width="3" height="8"/>
<rect x="891" y="298" width="1" height="14"/>
<rect x="890" y="298" width="3" height="11"/>
<rect x="894" y="305" width="1" height="11"/>
<rect x="893" y="305" width="3" height="3"/>
<rect x="897" y="303" width="1" height="16"/>
<rect x="896" y="304" width="3" height="11"/>
<rect x="900" y="305" width="1" height="9"/>
<rect x="899" y="306" width="3" height="2"/>
<rect x="903" y="301" width="1" height="8"/>
<rect x="902" y="302" width="3" height="5"/>
<rect x="906" y="298" width="1" height="13"/>
<rect x="905" y="299" width="3" height="9"/>
<rect x="908" y="277" width="1" height="4"/>
<rect x="908" y="290" width="1" height="1"/>
<rect x="907" y="281" width="1" height="9"/>
<rect x="909" y="281" width="1" height="9"/>
<rect x="908" y="281" width="1" height="1"/>
<rect x="908" y="289" width="1" height="1"/>
<rect x="911" y="266" width="1" height="2"/>
<rect x="911" y="279" width="1" height="3"/>
<rect x="910" y="268" width="1" height="11"/>
<rect x="912" y="268" width="1" height="11"/>
<rect x="911" y="268" width="1" height="1"/>
<rect x="911" y="278" width="1" height="1"/>
<rect x="914" y="256" width="1" height="1"/>
<rect x="914" y="268" width="1" height="1"/>
<rect x="913" y="257" width="1" height="11"/>
<rect x="915" y="257" width="1" height="11"/>
<rect x="914" y="257" width="1" height="1"/>
<rect x="914" y="267" width="1" height="1"/>
<rect x="917" y="256" width="1" height="8"/>
<rect x="916" y="260" width="3" height="1"/>
<rect x="920" y="252" width="1" height="10"/>
<rect x="919" y="257" width="3" height="3"/>
<rect x="923" y="248" width="1" height="7"/>
<rect x="922" y="253" width="3" height="1"/>
<rect x="926" y="246" width="1" height="9"/>
<rect x="925" y="253" width="3" height="1"/>
<rect x="928" y="251" width="1" height="12"/>
<rect x="927" y="253" width="3" height="2"/>
<rect x="931" y="254" width="1" height="11"/>
<rect x="930" y="254" width="3" height="7"/>
<rect x="934" y="247" width="1" height="8"/>
<rect x="933" y="250" width="3" height="3"/>
</g>
<path d="M46.5,170.5H940.5" stroke="#8fb2bf" stroke-width="1" fill="none" shape-rendering="crispEdges"/>
<rect x="46.5" y="28.5" width="894.0" height="547.0" fill="none" stroke="#8fb2bf" stroke-width="1" shape-rendering="crispEdges"/>
<path d="M175.1,422.3L179.6,417.5L184.1,422.3Z" fill="#d3edea" stroke="none"/><rect x="158.9" y="422.3" width="41.4" height="10.2" fill="#d6efec" stroke="#a9c9cc" stroke-width="0.8"/><text x="179.6" y="430.6" font-size="9" text-anchor="middle" textLength="36.5" lengthAdjust="spacingAndGlyphs">14785.78</text>
<path d="M216.9,357.5L221.4,352.7L225.9,357.5Z" fill="#d3edea" stroke="none"/><rect x="200.7" y="357.5" width="41.4" height="10.2" fill="#d6efec" stroke="#a9c9cc" stroke-width="0.8"/><text x="221.4" y="365.8" font-size="9" text-anchor="middle" textLength="36.5" lengthAdjust="spacingAndGlyphs">15286.55</text>
<path d="M246.3,280.7L250.8,285.5L255.3,280.7Z" fill="#d3edea" stroke="none"/><rect x="230.1" y="270.5" width="41.4" height="10.2" fill="#d6efec" stroke="#a9c9cc" stroke-width="0.8"/><text x="250.8" y="278.8" font-size="9" text-anchor="middle" textLength="36.5" lengthAdjust="spacingAndGlyphs">15791.15</text>
<path d="M280.0,394.3L284.5,389.5L289.0,394.3Z" fill="#d3edea" stroke="none"/><rect x="263.8" y="394.3" width="41.4" height="10.2" fill="#d6efec" stroke="#a9c9cc" stroke-width="0.8"/><text x="284.5" y="402.6" font-size="9" text-anchor="middle" textLength="36.5" lengthAdjust="spacingAndGlyphs">14991.21</text>
<path d="M374.2,225.5L378.7,230.3L383.2,225.5Z" fill="#d3edea" stroke="none"/><rect x="358.0" y="215.3" width="41.4" height="10.2" fill="#d6efec" stroke="#a9c9cc" stroke-width="0.8"/><text x="378.7" y="223.6" font-size="9" text-anchor="middle" textLength="36.5" lengthAdjust="spacingAndGlyphs">16238.81</text>
<path d="M387.9,281.7L392.4,276.9L396.9,281.7Z" fill="#d3edea" stroke="none"/><rect x="371.7" y="281.7" width="41.4" height="10.2" fill="#d6efec" stroke="#a9c9cc" stroke-width="0.8"/><text x="392.4" y="290.0" font-size="9" text-anchor="middle" textLength="36.5" lengthAdjust="spacingAndGlyphs">15884.25</text>
<path d="M440.0,195.89999999999998L444.5,200.7L449.0,195.89999999999998Z" fill="#d3edea" stroke="none"/><rect x="423.8" y="185.7" width="41.4" height="10.2" fill="#d6efec" stroke="#a9c9cc" stroke-width="0.8"/><text x="444.5" y="194.0" font-size="9" text-anchor="middle" textLength="36.5" lengthAdjust="spacingAndGlyphs">16489.46</text>
<path d="M450.9,253.3L455.4,248.5L459.9,253.3Z" fill="#d3edea" stroke="none"/><rect x="434.7" y="253.3" width="41.4" height="10.2" fill="#d6efec" stroke="#a9c9cc" stroke-width="0.8"/><text x="455.4" y="261.6" font-size="9" text-anchor="middle" textLength="36.5" lengthAdjust="spacingAndGlyphs">16112.63</text>
<path d="M478.0,181.7L482.5,186.5L487.0,181.7Z" fill="#d3edea" stroke="none"/><rect x="461.8" y="171.5" width="41.4" height="10.2" fill="#d6efec" stroke="#a9c9cc" stroke-width="0.8"/><text x="482.5" y="179.8" font-size="9" text-anchor="middle" textLength="36.5" lengthAdjust="spacingAndGlyphs">16586.46</text>
<path d="M542.0,257.3L546.5,252.5L551.0,257.3Z" fill="#d3edea" stroke="none"/><rect x="525.8" y="257.3" width="41.4" height="10.2" fill="#d6efec" stroke="#a9c9cc" stroke-width="0.8"/><text x="546.5" y="265.6" font-size="9" text-anchor="middle" textLength="36.5" lengthAdjust="spacingAndGlyphs">16075.34</text>
<path d="M564.5,196.5L569,201.3L573.5,196.5Z" fill="#d3edea" stroke="none"/><rect x="548.3" y="186.3" width="41.4" height="10.2" fill="#d6efec" stroke="#a9c9cc" stroke-width="0.8"/><text x="569.0" y="194.6" font-size="9" text-anchor="middle" textLength="36.5" lengthAdjust="spacingAndGlyphs">16475.34</text>
<path d="M710.1,332.09999999999997L714.6,336.9L719.1,332.09999999999997Z" fill="#d3edea" stroke="none"/><rect x="693.9" y="321.9" width="41.4" height="10.2" fill="#d6efec" stroke="#a9c9cc" stroke-width="0.8"/><text x="714.6" y="330.2" font-size="9" text-anchor="middle" textLength="36.5" lengthAdjust="spacingAndGlyphs">15393.05</text>
<path d="M758.9,334.2L763.4,339L767.9,334.2Z" fill="#d3edea" stroke="none"/><rect x="742.7" y="324.0" width="41.4" height="10.2" fill="#d6efec" stroke="#a9c9cc" stroke-width="0.8"/><text x="763.4" y="332.3" font-size="9" text-anchor="middle" textLength="36.5" lengthAdjust="spacingAndGlyphs">15378.90</text>
<path d="M687.9,441.8L692.4,437L696.9,441.8Z" fill="#d3edea" stroke="none"/><rect x="671.7" y="441.8" width="41.4" height="10.2" fill="#d6efec" stroke="#a9c9cc" stroke-width="0.8"/><text x="692.4" y="450.1" font-size="9" text-anchor="middle" textLength="36.5" lengthAdjust="spacingAndGlyphs">14639.70</text>
<path d="M733.0,419.3L737.5,414.5L742.0,419.3Z" fill="#d3edea" stroke="none"/><rect x="716.8" y="419.3" width="41.4" height="10.2" fill="#d6efec" stroke="#a9c9cc" stroke-width="0.8"/><text x="737.5" y="427.6" font-size="9" text-anchor="middle" textLength="36.5" lengthAdjust="spacingAndGlyphs">14810.56</text>
<path d="M801.7,561.8L806.2,557L810.7,561.8Z" fill="#d3edea" stroke="none"/><rect x="785.5" y="561.8" width="41.4" height="10.2" fill="#d6efec" stroke="#a9c9cc" stroke-width="0.8"/><text x="806.2" y="570.1" font-size="9" text-anchor="middle" textLength="36.5" lengthAdjust="spacingAndGlyphs">13776.88</text>
<path d="M481.5,186.2L974.7,250.25" stroke="#ff0808" stroke-width="3.9" stroke-linecap="butt" fill="none"/>
<path d="M652.0,388.0C652.9,390.0 654.4,394.2 657.3,400.0C660.2,405.8 664.9,414.7 669.4,423.0C673.9,431.3 678.8,441.0 684.0,450.0C689.2,459.0 695.4,468.4 700.7,477.0C706.0,485.6 710.8,494.2 715.8,501.5C720.8,508.8 726.0,514.8 731.0,521.0C736.0,527.2 741.0,533.5 746.0,538.8C751.0,544.1 756.1,548.7 761.2,553.0C766.3,557.3 771.4,561.2 776.4,564.5C781.4,567.8 787.0,570.7 791.5,572.7C796.0,574.7 799.6,576.2 803.6,576.7C807.6,577.2 811.8,577.0 815.8,575.8C819.8,574.6 823.9,572.7 827.9,569.7C831.9,566.7 836.0,562.9 840.0,557.6C844.0,552.3 848.1,546.0 852.1,537.9C856.1,529.8 860.7,518.6 864.2,509.0C867.7,499.4 870.5,490.1 873.3,480.3C876.1,470.5 879.0,460.1 881.0,450.0C883.0,439.9 884.1,430.4 885.5,420.0C886.9,409.6 888.7,393.0 889.3,387.6" stroke="#ff1010" stroke-width="3.2" fill="none" stroke-linecap="butt"/>
<text x="663.2" y="473.6" font-size="15" class="b" style="fill:#f01414;stroke:none">A</text>
<text x="752.6" y="317.4" font-size="15" class="b" style="fill:#f01414;stroke:none">B</text>
<text x="784.2" y="559.7" font-size="15" class="b" style="fill:#f01414;stroke:none">C</text>
<rect x="47.0" y="171.0" width="140.5" height="12.5" fill="url(#bg)"/>
<rect x="47.0" y="171.0" width="140.5" height="12.5" fill="#fff" fill-opacity="0.13"/>
<rect x="47.0" y="183" width="88" height="10.7" fill="url(#bg)"/>
<rect x="47.0" y="183" width="88" height="10.7" fill="#fff" fill-opacity="0.13"/>
<rect x="47.0" y="193.7" width="92.5" height="10.7" fill="url(#bg)"/>
<rect x="47.0" y="193.7" width="92.5" height="10.7" fill="#fff" fill-opacity="0.13"/>
<rect x="47.0" y="204.4" width="92.5" height="10.7" fill="url(#bg)"/>
<rect x="47.0" y="204.4" width="92.5" height="10.7" fill="#fff" fill-opacity="0.13"/>
<rect x="47.0" y="215.1" width="98.3" height="10.7" fill="url(#bg)"/>
<rect x="47.0" y="215.1" width="98.3" height="10.7" fill="#fff" fill-opacity="0.13"/>
<rect x="47.0" y="225.8" width="101.5" height="11" fill="url(#bg)"/>
<rect x="47.0" y="225.8" width="101.5" height="11" fill="#fff" fill-opacity="0.13"/>
<rect x="47.0" y="29.0" width="96" height="12.5" fill="#fff" fill-opacity="0.13"/>
<path d="M49.5,40.5V36L52.5,31.5L55,35.5L57,32.5L58.5,40.5Z" fill="#72bab3" stroke="none"/><path d="M49.5,40.5V36L52.5,31.5L55,35.5L57,32.5L58.5,40.5" fill="none" stroke="#2b2bd0" stroke-width="1"/>
<text class="v" x="61.5" y="39" font-size="9.5" textLength="79" lengthAdjust="spacing">RSI(14) 72.74</text>
<g fill="#000" shape-rendering="crispEdges"><rect x="49" y="174" width="3" height="7"/><rect x="50" y="172" width="1" height="11"/><rect x="53" y="173" width="1" height="10"/><rect x="55" y="173" width="1" height="10"/><rect x="54" y="175" width="1" height="1"/><rect x="54" y="180" width="1" height="1"/><rect x="53" y="175" width="3" height="1"/><rect x="53" y="180" width="3" height="1"/></g>
<text class="v" x="61.5" y="181" font-size="9.5" textLength="125" lengthAdjust="spacing">$TSX (Daily) 16068.25</text>
<path d="M49,188.7H57.5" stroke="#10109a" stroke-width="1.6" fill="none"/>
<text class="v" x="59.8" y="192.2" font-size="9" style="fill:#10109a;stroke:#10109a;stroke-width:0.15px" textLength="73.8" lengthAdjust="spacingAndGlyphs">MA(50) 15208.62</text>
<path d="M49,199.4H57.5" stroke="#dd1010" stroke-width="1.6" fill="none"/>
<text class="v" x="59.8" y="202.9" font-size="9" style="fill:#dd1010;stroke:#dd1010;stroke-width:0.15px" textLength="78.4" lengthAdjust="spacingAndGlyphs">MA(100) 15162.99</text>
<path d="M49,210.0H57.5" stroke="#0a640a" stroke-width="1.6" fill="none"/>
<text class="v" x="59.8" y="213.5" font-size="9" style="fill:#0a640a;stroke:#0a640a;stroke-width:0.15px" textLength="78.4" lengthAdjust="spacingAndGlyphs">MA(200) 15707.87</text>
<path d="M49,220.7H57.5" stroke="#ff10e8" stroke-width="1.6" fill="none"/>
<text class="v" x="59.8" y="224.2" font-size="9" style="fill:#ff10e8;stroke:#ff10e8;stroke-width:0.15px" textLength="84.3" lengthAdjust="spacingAndGlyphs">EMA(165) 15480.05</text>
<path d="M50.5,230.5V234.8M53.5,228.5V234.8M56.5,229.5V234.8" stroke="#86b4cc" stroke-width="1.2" fill="none"/>
<text class="v" x="59.8" y="234.9" font-size="9" style="fill:#2a8cc0;stroke:none" textLength="87.6" lengthAdjust="spacingAndGlyphs">Volume 243,003,504</text>
<path d="M940.5,567.5h3 M940.5,553.5h3 M940.5,539.5h3 M940.5,524.5h3 M940.5,510.5h3 M940.5,496.5h3 M940.5,483.5h3 M940.5,469.5h3 M940.5,455.5h3 M940.5,442.5h3 M940.5,428.5h3 M940.5,415.5h3 M940.5,401.5h3 M940.5,388.5h3 M940.5,375.5h3 M940.5,362.5h3 M940.5,349.5h3 M940.5,336.5h3 M940.5,323.5h3 M940.5,311.5h3 M940.5,298.5h3 M940.5,285.5h3 M940.5,273.5h3 M940.5,261.5h3 M940.5,248.5h3 M940.5,236.5h3 M940.5,224.5h3 M940.5,212.5h3 M940.5,200.5h3 M940.5,188.5h3 M940.5,157.5h2.5 M940.5,150.5h2.5 M940.5,144.5h2.5 M940.5,138.5h2.5 M940.5,131.5h2.5 M940.5,125.5h2.5 M940.5,119.5h2.5 M940.5,112.5h2.5 M940.5,106.5h2.5 M940.5,99.5h2.5 M940.5,93.5h2.5 M940.5,87.5h2.5 M940.5,80.5h2.5 M940.5,74.5h2.5 M940.5,68.5h2.5 M940.5,61.5h2.5 M940.5,55.5h2.5 M940.5,48.5h2.5 M940.5,42.5h2.5 M940.5,36.5h2.5 M46.5,556.5h-2.5 M46.5,538.5h-2.5 M46.5,519.5h-2.5 M46.5,501.5h-2.5 M46.5,482.5h-2.5 M46.5,464.5h-2.5 M46.5,445.5h-2.5 M47.5,575.5v2.5M47.5,589h0.01v1 M101.5,575.5v2.5M101.5,589h0.01v1 M164.5,575.5v2.5M164.5,589h0.01v1 M218.5,575.5v2.5M218.5,589h0.01v1 M278.5,575.5v2.5M278.5,589h0.01v1 M338.5,575.5v2.5M338.5,589h0.01v1 M401.5,575.5v2.5M401.5,589h0.01v1 M460.5,575.5v2.5M460.5,589h0.01v1 M520.5,575.5v2.5M520.5,589h0.01v1 M583.5,575.5v2.5M583.5,589h0.01v1 M637.5,575.5v2.5M637.5,589h0.01v1 M700.5,575.5v2.5M700.5,589h0.01v1 M763.5,575.5v2.5M763.5,589h0.01v1 M817.5,575.5v2.5M817.5,589h0.01v1 M880.5,575.5v2.5M880.5,589h0.01v1 M934.5,575.5v2.5M934.5,589h0.01v1" stroke="#8fb2bf" stroke-width="1" fill="none" shape-rendering="crispEdges"/>
<text x="944.6" y="569.7" font-size="9.5" textLength="28.7" lengthAdjust="spacing">13700</text>
<text x="944.6" y="555.3" font-size="9.5" textLength="28.7" lengthAdjust="spacing">13800</text>
<text x="944.6" y="541.0" font-size="9.5" textLength="28.7" lengthAdjust="spacing">13900</text>
<text x="944.6" y="526.9" font-size="9.5" textLength="28.7" lengthAdjust="spacing">14000</text>
<text x="944.6" y="512.8" font-size="9.5" textLength="28.7" lengthAdjust="spacing">14100</text>
<text x="944.6" y="498.8" font-size="9.5" textLength="28.7" lengthAdjust="spacing">14200</text>
<text x="944.6" y="485.0" font-size="9.5" textLength="28.7" lengthAdjust="spacing">14300</text>
<text x="944.6" y="471.2" font-size="9.5" textLength="28.7" lengthAdjust="spacing">14400</text>
<text x="944.6" y="457.5" font-size="9.5" textLength="28.7" lengthAdjust="spacing">14500</text>
<text x="944.6" y="443.9" font-size="9.5" textLength="28.7" lengthAdjust="spacing">14600</text>
<text x="944.6" y="430.4" font-size="9.5" textLength="28.7" lengthAdjust="spacing">14700</text>
<text x="944.6" y="417.0" font-size="9.5" textLength="28.7" lengthAdjust="spacing">14800</text>
<text x="944.6" y="403.7" font-size="9.5" textLength="28.7" lengthAdjust="spacing">14900</text>
<text x="944.6" y="390.5" font-size="9.5" textLength="28.7" lengthAdjust="spacing">15000</text>
<text x="944.6" y="377.4" font-size="9.5" textLength="28.7" lengthAdjust="spacing">15100</text>
<text x="944.6" y="364.3" font-size="9.5" textLength="28.7" lengthAdjust="spacing">15200</text>
<text x="944.6" y="351.4" font-size="9.5" textLength="28.7" lengthAdjust="spacing">15300</text>
<text x="944.6" y="338.5" font-size="9.5" textLength="28.7" lengthAdjust="spacing">15400</text>
<text x="944.6" y="325.7" font-size="9.5" textLength="28.7" lengthAdjust="spacing">15500</text>
<text x="944.6" y="313.0" font-size="9.5" textLength="28.7" lengthAdjust="spacing">15600</text>
<text x="944.6" y="300.4" font-size="9.5" textLength="28.7" lengthAdjust="spacing">15700</text>
<text x="944.6" y="287.9" font-size="9.5" textLength="28.7" lengthAdjust="spacing">15800</text>
<text x="944.6" y="275.4" font-size="9.5" textLength="28.7" lengthAdjust="spacing">15900</text>
<text x="944.6" y="263.0" font-size="9.5" textLength="28.7" lengthAdjust="spacing">16000</text>
<text x="944.6" y="250.7" font-size="9.5" textLength="28.7" lengthAdjust="spacing">16100</text>
<text x="944.6" y="238.4" font-size="9.5" textLength="28.7" lengthAdjust="spacing">16200</text>
<text x="944.6" y="226.3" font-size="9.5" textLength="28.7" lengthAdjust="spacing">16300</text>
<text x="944.6" y="214.2" font-size="9.5" textLength="28.7" lengthAdjust="spacing">16400</text>
<text x="944.6" y="202.2" font-size="9.5" textLength="28.7" lengthAdjust="spacing">16500</text>
<text x="944.6" y="190.2" font-size="9.5" textLength="28.7" lengthAdjust="spacing">16600</text>
<text x="943.8" y="152.4" font-size="9.5" textLength="11.4" lengthAdjust="spacing">10</text>
<text x="943.8" y="126.9" font-size="9.5" textLength="11.4" lengthAdjust="spacing">30</text>
<text x="943.8" y="101.4" font-size="9.5" textLength="11.4" lengthAdjust="spacing">50</text>
<text x="943.8" y="75.9" font-size="9.5" textLength="11.4" lengthAdjust="spacing">70</text>
<text x="943.8" y="50.4" font-size="9.5" textLength="11.4" lengthAdjust="spacing">90</text>
<text x="43.2" y="558.5" font-size="9.4" text-anchor="end" textLength="26.5" lengthAdjust="spacing">100M</text>
<text x="43.2" y="539.9" font-size="9.4" text-anchor="end" textLength="26.5" lengthAdjust="spacing">200M</text>
<text x="43.2" y="521.4" font-size="9.4" text-anchor="end" textLength="26.5" lengthAdjust="spacing">300M</text>
<text x="43.2" y="502.8" font-size="9.4" text-anchor="end" textLength="26.5" lengthAdjust="spacing">400M</text>
<text x="43.2" y="484.2" font-size="9.4" text-anchor="end" textLength="26.5" lengthAdjust="spacing">500M</text>
<text x="43.2" y="465.6" font-size="9.4" text-anchor="end" textLength="26.5" lengthAdjust="spacing">600M</text>
<text x="43.2" y="447.0" font-size="9.4" text-anchor="end" textLength="26.5" lengthAdjust="spacing">700M</text>
<text x="47.7" y="585.8" font-size="9.2" text-anchor="middle" textLength="17.6" lengthAdjust="spacing">Dec</text>
<text x="100.7" y="585.8" font-size="9.8" class="v b" text-anchor="middle" textLength="22.7" lengthAdjust="spacingAndGlyphs">2018</text>
<text x="164.7" y="585.8" font-size="9.2" text-anchor="middle" textLength="17.6" lengthAdjust="spacing">Feb</text>
<text x="218.9" y="585.8" font-size="9.2" text-anchor="middle" textLength="17.6" lengthAdjust="spacing">Mar</text>
<text x="278.8" y="585.8" font-size="9.2" text-anchor="middle" textLength="17.6" lengthAdjust="spacing">Apr</text>
<text x="338.7" y="585.8" font-size="9.2" text-anchor="middle" textLength="17.6" lengthAdjust="spacing">May</text>
<text x="401.5" y="585.8" font-size="9.2" text-anchor="middle" textLength="17.6" lengthAdjust="spacing">Jun</text>
<text x="461.4" y="585.8" font-size="9.2" text-anchor="middle" textLength="17.6" lengthAdjust="spacing">Jul</text>
<text x="521.3" y="585.8" font-size="9.2" text-anchor="middle" textLength="17.6" lengthAdjust="spacing">Aug</text>
<text x="584.1" y="585.8" font-size="9.2" text-anchor="middle" textLength="17.6" lengthAdjust="spacing">Sep</text>
<text x="638.3" y="585.8" font-size="9.2" text-anchor="middle" textLength="17.6" lengthAdjust="spacing">Oct</text>
<text x="701.0" y="585.8" font-size="9.2" text-anchor="middle" textLength="17.6" lengthAdjust="spacing">Nov</text>
<text x="763.8" y="585.8" font-size="9.2" text-anchor="middle" textLength="17.6" lengthAdjust="spacing">Dec</text>
<text x="816.8" y="585.8" font-size="9.8" class="v b" text-anchor="middle" textLength="22.7" lengthAdjust="spacingAndGlyphs">2019</text>
<text x="880.8" y="585.8" font-size="9.2" text-anchor="middle" textLength="17.6" lengthAdjust="spacing">Feb</text>
<text x="935.0" y="585.8" font-size="9.2" text-anchor="middle" textLength="17.6" lengthAdjust="spacing">Mar</text>
<path d="M938.2,366.3671275669673L942.2,361.16712756696734H989.5V371.5671275669673H942.2Z" fill="#d6f6fb" stroke="#dd1010" stroke-width="1.2" stroke-linejoin="miter"/><text x="943.8" y="369.8" font-size="9.6"  textLength="43.0" lengthAdjust="spacing">15162.99</text>
<path d="M938.2,360.4296782292856L942.2,355.22967822928564H989.5V365.6296782292856H942.2Z" fill="#d6f6fb" stroke="#10109a" stroke-width="1.2" stroke-linejoin="miter"/><text x="943.8" y="363.8" font-size="9.6"  textLength="43.0" lengthAdjust="spacing">15208.62</text>
<path d="M938.2,325.47478013037824L942.2,320.27478013037825H989.5V330.6747801303782H942.2Z" fill="#d6f6fb" stroke="#ff10e8" stroke-width="1.2" stroke-linejoin="miter"/><text x="943.8" y="328.9" font-size="9.6"  textLength="43.0" lengthAdjust="spacing">15480.05</text>
<path d="M938.2,296.6058894040894L942.2,291.4058894040894H989.5V301.8058894040894H942.2Z" fill="#d6f6fb" stroke="#0a640a" stroke-width="1.2" stroke-linejoin="miter"/><text x="943.8" y="300.0" font-size="9.6"  textLength="43.0" lengthAdjust="spacing">15707.87</text>
<path d="M938.2,528.4L942.2,523.1999999999999H996V533.6H942.2Z" fill="#d6f6fb" stroke="#f3e6b4" stroke-width="1.2" stroke-linejoin="miter"/><text x="942.7" y="531.8" font-size="9.6"  textLength="53" lengthAdjust="spacing">243003504</text>
<path d="M938.2,252.28346214075418L942.2,247.0834621407542H989.3V257.48346214075417H942.2Z" fill="#d6f6fb" stroke="#000" stroke-width="1.2" stroke-linejoin="miter"/><text x="942.7" y="255.7" font-size="10.7" class="b" textLength="44" lengthAdjust="spacing">16068.25</text>
<path d="M930,244.45L974.7,250.25" stroke="#ff0808" stroke-width="3.9" fill="none"/>
<path d="M938.2,69.5L942.2,64.3H971.7V74.7H942.2Z" fill="#d6f6fb" stroke="#3030d0" stroke-width="1.2" stroke-linejoin="miter"/><text x="943.1" y="72.9" font-size="9.6"  textLength="26.7" lengthAdjust="spacing">72.74</text>
<text x="46.5" y="14" font-size="12.7" class="b" textLength="31.8" lengthAdjust="spacingAndGlyphs">$TSX</text>
<text x="82.5" y="14" font-size="10.6" textLength="101.5" lengthAdjust="spacingAndGlyphs">TSX Composite Index</text>
<text x="190" y="14" font-size="10" textLength="19" lengthAdjust="spacing">TSE</text>
<text x="46.8" y="26" font-size="9.3" textLength="52" lengthAdjust="spacing">1-Mar-2019</text>
<text class="v" x="851" y="12.9" font-size="9.3" style="fill:#555;stroke:none" textLength="89" lengthAdjust="spacingAndGlyphs">© StockCharts.com</text>
<text x="414.1" y="26.1" font-size="10" class="v b" textLength="28.2" lengthAdjust="spacingAndGlyphs">Open</text>
<text x="446.8" y="26.1" font-size="9.7" textLength="43.3" lengthAdjust="spacing">16086.29</text>
<text x="496.8" y="26.1" font-size="10" class="v b" textLength="23.7" lengthAdjust="spacingAndGlyphs">High</text>
<text x="525" y="26.1" font-size="9.7" textLength="42.7" lengthAdjust="spacing">16122.06</text>
<text x="575" y="26.1" font-size="10" class="v b" textLength="22.7" lengthAdjust="spacingAndGlyphs">Low</text>
<text x="602.8" y="26.1" font-size="9.7" textLength="43.1" lengthAdjust="spacing">16058.06</text>
<text x="653.2" y="26.1" font-size="10" class="v b" textLength="30.9" lengthAdjust="spacingAndGlyphs">Close</text>
<text x="688.6" y="26.1" font-size="9.7" textLength="43.3" lengthAdjust="spacing">16068.25</text>
<text x="739.3" y="26.1" font-size="10" class="v b" textLength="41.4" lengthAdjust="spacingAndGlyphs">Volume</text>
<text x="785.6" y="26.1" font-size="9.7" textLength="34.4" lengthAdjust="spacing">243.0M</text>
<text x="826.7" y="26.1" font-size="10" class="v b" textLength="21.1" lengthAdjust="spacingAndGlyphs">Chg</text>
<text x="852.2" y="26.1" font-size="9.7" textLength="78.9" lengthAdjust="spacing">+69.24 (+0.43%)</text>
<path d="M933.2,24.6L936.6,20.2L940,24.6Z" fill="#1f6b1f"/>
</svg></body></html>
